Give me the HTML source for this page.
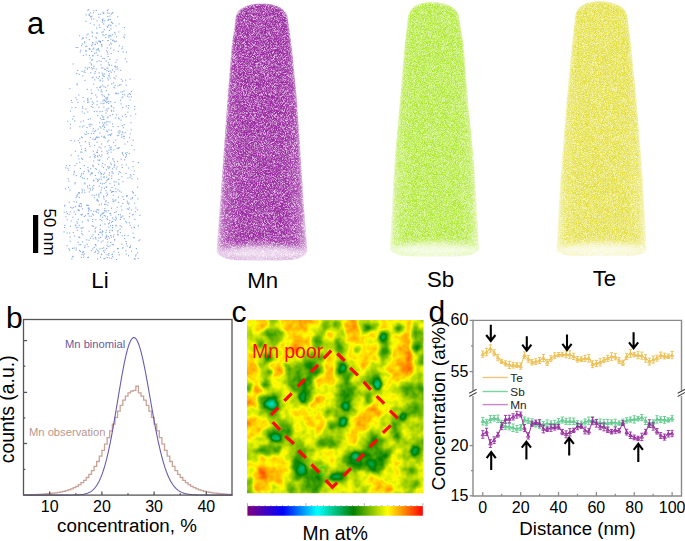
<!DOCTYPE html>
<html><head><meta charset="utf-8"><style>
html,body{margin:0;padding:0;background:#fff;}
body{width:685px;height:541px;overflow:hidden;}
svg{display:block;}
</style></head><body>
<svg width="685" height="541" viewBox="0 0 685 541">
<defs>
<filter id="soft" x="-20%" y="-20%" width="140%" height="140%"><feGaussianBlur stdDeviation="1.5"/></filter>
<filter id="soft3" x="-50%" y="-50%" width="200%" height="200%"><feGaussianBlur stdDeviation="3"/></filter>
<filter id="fMn" x="0" y="0" width="685" height="300" filterUnits="userSpaceOnUse" color-interpolation-filters="sRGB">
<feTurbulence type="fractalNoise" baseFrequency="1.9" numOctaves="2" seed="3" result="n"/>
<feColorMatrix in="n" type="matrix" values="0 0 0 0 0.608 0 0 0 0 0.176 0 0 0 0 0.635 3.0 0 0 0 -0.76" result="c"/>
<feGaussianBlur in="c" stdDeviation="0.35" result="cb"/>
<feComposite in="cb" in2="SourceGraphic" operator="in"/>
</filter>
<linearGradient id="hgMn" x1="0" x2="1" y1="0" y2="0"><stop offset="0" stop-color="#fff" stop-opacity="0.4"/><stop offset="0.1" stop-color="#fff" stop-opacity="0.85"/><stop offset="0.25" stop-color="#fff"/><stop offset="0.75" stop-color="#fff"/><stop offset="0.9" stop-color="#fff" stop-opacity="0.85"/><stop offset="1" stop-color="#fff" stop-opacity="0.4"/></linearGradient>
<mask id="mMn" maskUnits="userSpaceOnUse" x="0" y="0" width="685" height="300"><path d="M216.5,252 L220.3,200 L227.4,100 L231.8,45 L235.4,20 C235.4,9.6 245.5,3.6 261.5,3.6 C277.5,3.6 288,9.6 288,20 L291.6,45 L297,100 L303.5,200 L307.5,252 C301.5,261.5 287,260.5 262,260.5 C237,260.5 222.5,261.5 216.5,252 Z" fill="url(#hgMn)" filter="url(#soft)"/><ellipse cx="262" cy="253.5" rx="46" ry="8.5" fill="#000" opacity="0.8" filter="url(#soft3)"/></mask>
<filter id="fSb" x="0" y="0" width="685" height="300" filterUnits="userSpaceOnUse" color-interpolation-filters="sRGB">
<feTurbulence type="fractalNoise" baseFrequency="1.9" numOctaves="2" seed="5" result="n"/>
<feColorMatrix in="n" type="matrix" values="0 0 0 0 0.675 0 0 0 0 0.910 0 0 0 0 0.176 2.8 0 0 0 -0.88" result="c"/>
<feGaussianBlur in="c" stdDeviation="0.35" result="cb"/>
<feComposite in="cb" in2="SourceGraphic" operator="in"/>
</filter>
<linearGradient id="hgSb" x1="0" x2="1" y1="0" y2="0"><stop offset="0" stop-color="#fff" stop-opacity="0.4"/><stop offset="0.1" stop-color="#fff" stop-opacity="0.85"/><stop offset="0.25" stop-color="#fff"/><stop offset="0.75" stop-color="#fff"/><stop offset="0.9" stop-color="#fff" stop-opacity="0.85"/><stop offset="1" stop-color="#fff" stop-opacity="0.4"/></linearGradient>
<mask id="mSb" maskUnits="userSpaceOnUse" x="0" y="0" width="685" height="300"><path d="M389.8,250 L394.6,160 L400,100 L404.7,45 L407.6,20 C407.6,8.2 416,2.2 432,2.2 C448,2.2 459.5,8.2 459.5,20 L463.8,45 L467.8,100 L474,160 L479.2,250 C473.2,257.5 459.5,256.5 434.5,256.5 C409.5,256.5 395.8,257.5 389.8,250 Z" fill="url(#hgSb)" filter="url(#soft)"/><ellipse cx="434.5" cy="250.5" rx="45" ry="8" fill="#000" opacity="0.8" filter="url(#soft3)"/></mask>
<filter id="fTe" x="0" y="0" width="685" height="300" filterUnits="userSpaceOnUse" color-interpolation-filters="sRGB">
<feTurbulence type="fractalNoise" baseFrequency="1.9" numOctaves="2" seed="9" result="n"/>
<feColorMatrix in="n" type="matrix" values="0 0 0 0 0.886 0 0 0 0 0.867 0 0 0 0 0.227 2.8 0 0 0 -0.86" result="c"/>
<feGaussianBlur in="c" stdDeviation="0.35" result="cb"/>
<feComposite in="cb" in2="SourceGraphic" operator="in"/>
</filter>
<linearGradient id="hgTe" x1="0" x2="1" y1="0" y2="0"><stop offset="0" stop-color="#fff" stop-opacity="0.4"/><stop offset="0.1" stop-color="#fff" stop-opacity="0.85"/><stop offset="0.25" stop-color="#fff"/><stop offset="0.75" stop-color="#fff"/><stop offset="0.9" stop-color="#fff" stop-opacity="0.85"/><stop offset="1" stop-color="#fff" stop-opacity="0.4"/></linearGradient>
<mask id="mTe" maskUnits="userSpaceOnUse" x="0" y="0" width="685" height="300"><path d="M556.4,251 L560.3,180 L566.8,100 L571.9,45 L574.8,20 C574.8,7.2 584,1.2 600,1.2 C616,1.2 628.1,7.2 628.1,20 L631,45 L636.5,100 L643,180 L646.8,251 C640.8,257 626.5,256 601.5,256 C576.5,256 562.4,257 556.4,251 Z" fill="url(#hgTe)" filter="url(#soft)"/><ellipse cx="601.5" cy="250.5" rx="45" ry="8" fill="#000" opacity="0.8" filter="url(#soft3)"/></mask>
<clipPath id="hmclip"><rect x="247" y="320" width="176.5" height="173.3"/></clipPath>
<filter id="hmf" x="227" y="300" width="216.5" height="213.3" filterUnits="userSpaceOnUse" color-interpolation-filters="sRGB">
<feGaussianBlur in="SourceGraphic" stdDeviation="2.2" result="base"/>
<feTurbulence type="fractalNoise" baseFrequency="0.13" numOctaves="2" seed="4" result="tn"/>
<feColorMatrix in="tn" type="matrix" values="1 0 0 0 0  1 0 0 0 0  1 0 0 0 0  0 0 0 0 1" result="nz"/>
<feComposite in="base" in2="nz" operator="arithmetic" k1="0" k2="1" k3="0.13" k4="-0.065" result="sum"/>
<feComponentTransfer in="sum"><feFuncR type="table" tableValues="0.5020 0.4772 0.4525 0.4278 0.4031 0.3783 0.3536 0.3289 0.3041 0.2794 0.2547 0.2300 0.2052 0.1805 0.1558 0.1311 0.1063 0.0816 0.0569 0.0321 0.0074 0.0000 0.0000 0.0000 0.0000 0.0000 0.0000 0.0000 0.0000 0.0000 0.0000 0.0000 0.0000 0.0000 0.0000 0.0000 0.0000 0.0000 0.0000 0.0000 0.0000 0.0000 0.0000 0.0000 0.0000 0.0000 0.0000 0.0000 0.0000 0.0000 0.0000 0.0000 0.0000 0.0000 0.0000 0.0000 0.0000 0.0000 0.0000 0.0000 0.0000 0.0309 0.0825 0.1340 0.1856 0.2371 0.2887 0.3402 0.3918 0.4433 0.4948 0.5464 0.5979 0.6495 0.7010 0.7526 0.8041 0.8557 0.9072 0.9588 1.0000 1.0000 1.0000 1.0000 1.0000 1.0000 1.0000 1.0000 1.0000 1.0000 1.0000 1.0000 1.0000 1.0000 1.0000 1.0000 1.0000 1.0000 1.0000 1.0000 1.0000"/><feFuncG type="table" tableValues="0.0000 0.0000 0.0000 0.0000 0.0000 0.0000 0.0000 0.0000 0.0000 0.0000 0.0000 0.0000 0.0000 0.0000 0.0000 0.0000 0.0000 0.0000 0.0000 0.0000 0.0000 0.0359 0.0872 0.1385 0.1897 0.2410 0.2923 0.3436 0.3949 0.4462 0.4974 0.5487 0.6000 0.6513 0.7026 0.7538 0.8051 0.8564 0.9077 0.9590 0.9952 0.9710 0.9468 0.9226 0.8985 0.8743 0.8501 0.8259 0.8018 0.7776 0.7534 0.7292 0.7050 0.6809 0.6567 0.6325 0.6083 0.5842 0.5600 0.5358 0.5116 0.5174 0.5430 0.5687 0.5944 0.6201 0.6457 0.6714 0.6971 0.7227 0.7484 0.7741 0.7998 0.8254 0.8511 0.8768 0.9024 0.9281 0.9538 0.9795 0.9901 0.9406 0.8911 0.8416 0.7921 0.7426 0.6931 0.6436 0.5941 0.5446 0.4950 0.4455 0.3960 0.3465 0.2970 0.2475 0.1980 0.1485 0.0990 0.0495 0.0000"/><feFuncB type="table" tableValues="0.5020 0.5265 0.5510 0.5756 0.6001 0.6246 0.6492 0.6737 0.6982 0.7228 0.7473 0.7718 0.7964 0.8209 0.8454 0.8700 0.8945 0.9190 0.9436 0.9681 0.9926 1.0000 1.0000 1.0000 1.0000 1.0000 1.0000 1.0000 1.0000 1.0000 1.0000 1.0000 1.0000 1.0000 1.0000 1.0000 1.0000 1.0000 1.0000 1.0000 0.9903 0.9417 0.8932 0.8447 0.7961 0.7476 0.6990 0.6505 0.6019 0.5534 0.5049 0.4563 0.4078 0.3592 0.3107 0.2621 0.2136 0.1650 0.1165 0.0680 0.0194 0.0000 0.0000 0.0000 0.0000 0.0000 0.0000 0.0000 0.0000 0.0000 0.0000 0.0000 0.0000 0.0000 0.0000 0.0000 0.0000 0.0000 0.0000 0.0000 0.0000 0.0000 0.0000 0.0000 0.0000 0.0000 0.0000 0.0000 0.0000 0.0000 0.0000 0.0000 0.0000 0.0000 0.0000 0.0000 0.0000 0.0000 0.0000 0.0000 0.0000"/><feFuncA type="linear" slope="0" intercept="1"/></feComponentTransfer>
</filter>
<linearGradient id="cbar" x1="0" x2="1" y1="0" y2="0">
<stop offset="0" stop-color="#800080"/><stop offset="0.203" stop-color="#0000ff"/><stop offset="0.398" stop-color="#00ffff"/>
<stop offset="0.604" stop-color="#008000"/><stop offset="0.798" stop-color="#ffff00"/><stop offset="1" stop-color="#ff0000"/></linearGradient>
</defs>
<rect width="685" height="541" fill="#fff"/>
<g mask="url(#mMn)"><path d="M216.5,252 L220.3,200 L227.4,100 L231.8,45 L235.4,20 C235.4,9.6 245.5,3.6 261.5,3.6 C277.5,3.6 288,9.6 288,20 L291.6,45 L297,100 L303.5,200 L307.5,252 C301.5,261.5 287,260.5 262,260.5 C237,260.5 222.5,261.5 216.5,252 Z" fill="rgb(226, 192, 228)"/><path d="M216.5,252 L220.3,200 L227.4,100 L231.8,45 L235.4,20 C235.4,9.6 245.5,3.6 261.5,3.6 C277.5,3.6 288,9.6 288,20 L291.6,45 L297,100 L303.5,200 L307.5,252 C301.5,261.5 287,260.5 262,260.5 C237,260.5 222.5,261.5 216.5,252 Z" fill="#000" filter="url(#fMn)"/></g>
<g mask="url(#mSb)"><path d="M389.8,250 L394.6,160 L400,100 L404.7,45 L407.6,20 C407.6,8.2 416,2.2 432,2.2 C448,2.2 459.5,8.2 459.5,20 L463.8,45 L467.8,100 L474,160 L479.2,250 C473.2,257.5 459.5,256.5 434.5,256.5 C409.5,256.5 395.8,257.5 389.8,250 Z" fill="rgb(222, 245, 168)"/><path d="M389.8,250 L394.6,160 L400,100 L404.7,45 L407.6,20 C407.6,8.2 416,2.2 432,2.2 C448,2.2 459.5,8.2 459.5,20 L463.8,45 L467.8,100 L474,160 L479.2,250 C473.2,257.5 459.5,256.5 434.5,256.5 C409.5,256.5 395.8,257.5 389.8,250 Z" fill="#000" filter="url(#fSb)"/></g>
<g mask="url(#mTe)"><path d="M556.4,251 L560.3,180 L566.8,100 L571.9,45 L574.8,20 C574.8,7.2 584,1.2 600,1.2 C616,1.2 628.1,7.2 628.1,20 L631,45 L636.5,100 L643,180 L646.8,251 C640.8,257 626.5,256 601.5,256 C576.5,256 562.4,257 556.4,251 Z" fill="rgb(244, 243, 178)"/><path d="M556.4,251 L560.3,180 L566.8,100 L571.9,45 L574.8,20 C574.8,7.2 584,1.2 600,1.2 C616,1.2 628.1,7.2 628.1,20 L631,45 L636.5,100 L643,180 L646.8,251 C640.8,257 626.5,256 601.5,256 C576.5,256 562.4,257 556.4,251 Z" fill="#000" filter="url(#fTe)"/></g>
<g fill="#4f86d4" opacity="0.72"><rect x="105.9" y="90.0" width="1.1" height="1.1"/><rect x="93.2" y="18.4" width="1.1" height="1.1"/><rect x="107.4" y="40.0" width="1.1" height="1.1"/><rect x="121.8" y="153.3" width="1.1" height="1.1"/><rect x="91.2" y="45.1" width="1.1" height="1.1"/><rect x="95.9" y="168.7" width="1.1" height="1.1"/><rect x="107.2" y="179.1" width="1.1" height="1.1"/><rect x="88.4" y="207.6" width="1.1" height="1.1"/><rect x="88.8" y="191.4" width="1.1" height="1.1"/><rect x="77.2" y="47.0" width="1.1" height="1.1"/><rect x="105.5" y="200.1" width="1.1" height="1.1"/><rect x="125.9" y="154.0" width="1.1" height="1.1"/><rect x="69.8" y="127.5" width="1.1" height="1.1"/><rect x="93.0" y="214.5" width="1.1" height="1.1"/><rect x="88.5" y="14.6" width="1.1" height="1.1"/><rect x="95.6" y="41.3" width="1.1" height="1.1"/><rect x="103.7" y="29.1" width="1.1" height="1.1"/><rect x="81.7" y="213.8" width="1.1" height="1.1"/><rect x="92.2" y="248.4" width="1.1" height="1.1"/><rect x="94.0" y="156.3" width="1.1" height="1.1"/><rect x="103.1" y="247.3" width="1.1" height="1.1"/><rect x="131.4" y="178.1" width="1.1" height="1.1"/><rect x="81.4" y="227.6" width="1.1" height="1.1"/><rect x="107.9" y="24.6" width="1.1" height="1.1"/><rect x="88.1" y="9.1" width="1.1" height="1.1"/><rect x="110.1" y="162.5" width="1.1" height="1.1"/><rect x="103.5" y="125.5" width="1.1" height="1.1"/><rect x="65.3" y="216.2" width="1.1" height="1.1"/><rect x="84.8" y="141.1" width="1.1" height="1.1"/><rect x="78.6" y="224.8" width="1.1" height="1.1"/><rect x="120.4" y="91.4" width="1.1" height="1.1"/><rect x="126.2" y="222.2" width="1.1" height="1.1"/><rect x="93.4" y="65.7" width="1.1" height="1.1"/><rect x="135.9" y="248.1" width="1.1" height="1.1"/><rect x="101.6" y="247.8" width="1.1" height="1.1"/><rect x="113.5" y="219.1" width="1.1" height="1.1"/><rect x="78.3" y="236.4" width="1.1" height="1.1"/><rect x="94.3" y="251.9" width="1.1" height="1.1"/><rect x="105.3" y="190.2" width="1.1" height="1.1"/><rect x="106.5" y="254.1" width="1.1" height="1.1"/><rect x="104.0" y="251.7" width="1.1" height="1.1"/><rect x="88.5" y="215.5" width="1.1" height="1.1"/><rect x="78.8" y="73.8" width="1.1" height="1.1"/><rect x="106.0" y="97.4" width="1.1" height="1.1"/><rect x="110.0" y="134.4" width="1.1" height="1.1"/><rect x="95.7" y="52.1" width="1.1" height="1.1"/><rect x="94.7" y="71.1" width="1.1" height="1.1"/><rect x="94.9" y="237.1" width="1.1" height="1.1"/><rect x="99.1" y="122.1" width="1.1" height="1.1"/><rect x="106.5" y="244.5" width="1.1" height="1.1"/><rect x="95.3" y="219.0" width="1.1" height="1.1"/><rect x="129.9" y="174.1" width="1.1" height="1.1"/><rect x="134.1" y="108.6" width="1.1" height="1.1"/><rect x="97.6" y="49.4" width="1.1" height="1.1"/><rect x="89.8" y="189.5" width="1.1" height="1.1"/><rect x="69.2" y="165.0" width="1.1" height="1.1"/><rect x="79.1" y="35.2" width="1.1" height="1.1"/><rect x="95.9" y="76.6" width="1.1" height="1.1"/><rect x="75.0" y="213.7" width="1.1" height="1.1"/><rect x="110.6" y="151.6" width="1.1" height="1.1"/><rect x="104.4" y="122.4" width="1.1" height="1.1"/><rect x="99.0" y="76.0" width="1.1" height="1.1"/><rect x="110.9" y="21.6" width="1.1" height="1.1"/><rect x="109.2" y="134.0" width="1.1" height="1.1"/><rect x="132.8" y="192.3" width="1.1" height="1.1"/><rect x="101.3" y="213.7" width="1.1" height="1.1"/><rect x="113.3" y="107.3" width="1.1" height="1.1"/><rect x="98.7" y="185.7" width="1.1" height="1.1"/><rect x="76.1" y="72.9" width="1.1" height="1.1"/><rect x="95.4" y="226.6" width="1.1" height="1.1"/><rect x="88.6" y="48.4" width="1.1" height="1.1"/><rect x="82.1" y="252.2" width="1.1" height="1.1"/><rect x="99.6" y="86.4" width="1.1" height="1.1"/><rect x="92.0" y="59.2" width="1.1" height="1.1"/><rect x="102.1" y="19.4" width="1.1" height="1.1"/><rect x="117.9" y="196.6" width="1.1" height="1.1"/><rect x="103.3" y="106.4" width="1.1" height="1.1"/><rect x="119.8" y="232.0" width="1.1" height="1.1"/><rect x="101.2" y="43.8" width="1.1" height="1.1"/><rect x="108.1" y="210.2" width="1.1" height="1.1"/><rect x="93.0" y="179.7" width="1.1" height="1.1"/><rect x="110.2" y="148.6" width="1.1" height="1.1"/><rect x="121.9" y="131.3" width="1.1" height="1.1"/><rect x="118.1" y="134.7" width="1.1" height="1.1"/><rect x="96.0" y="27.6" width="1.1" height="1.1"/><rect x="99.3" y="132.5" width="1.1" height="1.1"/><rect x="97.6" y="200.7" width="1.1" height="1.1"/><rect x="93.7" y="194.8" width="1.1" height="1.1"/><rect x="103.4" y="177.0" width="1.1" height="1.1"/><rect x="102.2" y="125.6" width="1.1" height="1.1"/><rect x="110.9" y="13.4" width="1.1" height="1.1"/><rect x="80.4" y="121.4" width="1.1" height="1.1"/><rect x="108.8" y="44.4" width="1.1" height="1.1"/><rect x="81.2" y="230.7" width="1.1" height="1.1"/><rect x="106.1" y="130.5" width="1.1" height="1.1"/><rect x="91.7" y="44.2" width="1.1" height="1.1"/><rect x="134.4" y="218.8" width="1.1" height="1.1"/><rect x="117.6" y="234.4" width="1.1" height="1.1"/><rect x="76.3" y="99.2" width="1.1" height="1.1"/><rect x="83.5" y="71.3" width="1.1" height="1.1"/><rect x="111.9" y="230.1" width="1.1" height="1.1"/><rect x="112.8" y="244.2" width="1.1" height="1.1"/><rect x="131.9" y="197.2" width="1.1" height="1.1"/><rect x="86.5" y="127.0" width="1.1" height="1.1"/><rect x="108.3" y="253.1" width="1.1" height="1.1"/><rect x="85.5" y="50.8" width="1.1" height="1.1"/><rect x="129.7" y="133.3" width="1.1" height="1.1"/><rect x="109.4" y="121.5" width="1.1" height="1.1"/><rect x="104.5" y="68.8" width="1.1" height="1.1"/><rect x="103.1" y="196.4" width="1.1" height="1.1"/><rect x="98.6" y="24.5" width="1.1" height="1.1"/><rect x="100.0" y="224.7" width="1.1" height="1.1"/><rect x="75.7" y="247.5" width="1.1" height="1.1"/><rect x="81.2" y="232.9" width="1.1" height="1.1"/><rect x="100.0" y="215.4" width="1.1" height="1.1"/><rect x="132.5" y="139.6" width="1.1" height="1.1"/><rect x="73.8" y="170.8" width="1.1" height="1.1"/><rect x="99.1" y="170.4" width="1.1" height="1.1"/><rect x="105.1" y="37.0" width="1.1" height="1.1"/><rect x="112.7" y="159.3" width="1.1" height="1.1"/><rect x="111.7" y="229.9" width="1.1" height="1.1"/><rect x="100.4" y="85.8" width="1.1" height="1.1"/><rect x="112.2" y="114.0" width="1.1" height="1.1"/><rect x="114.2" y="65.7" width="1.1" height="1.1"/><rect x="126.7" y="208.3" width="1.1" height="1.1"/><rect x="80.5" y="214.0" width="1.1" height="1.1"/><rect x="90.8" y="132.9" width="1.1" height="1.1"/><rect x="86.3" y="45.6" width="1.1" height="1.1"/><rect x="101.3" y="44.5" width="1.1" height="1.1"/><rect x="77.6" y="241.9" width="1.1" height="1.1"/><rect x="103.2" y="195.6" width="1.1" height="1.1"/><rect x="122.6" y="51.3" width="1.1" height="1.1"/><rect x="90.8" y="250.1" width="1.1" height="1.1"/><rect x="80.9" y="214.5" width="1.1" height="1.1"/><rect x="89.7" y="57.3" width="1.1" height="1.1"/><rect x="126.8" y="200.7" width="1.1" height="1.1"/><rect x="130.0" y="93.8" width="1.1" height="1.1"/><rect x="69.3" y="88.1" width="1.1" height="1.1"/><rect x="92.6" y="238.1" width="1.1" height="1.1"/><rect x="99.5" y="248.2" width="1.1" height="1.1"/><rect x="125.3" y="241.0" width="1.1" height="1.1"/><rect x="100.1" y="214.7" width="1.1" height="1.1"/><rect x="78.7" y="204.6" width="1.1" height="1.1"/><rect x="81.5" y="70.8" width="1.1" height="1.1"/><rect x="108.3" y="75.2" width="1.1" height="1.1"/><rect x="107.4" y="67.5" width="1.1" height="1.1"/><rect x="122.3" y="196.0" width="1.1" height="1.1"/><rect x="101.2" y="150.7" width="1.1" height="1.1"/><rect x="93.6" y="153.6" width="1.1" height="1.1"/><rect x="122.8" y="135.8" width="1.1" height="1.1"/><rect x="100.0" y="256.7" width="1.1" height="1.1"/><rect x="108.5" y="19.1" width="1.1" height="1.1"/><rect x="81.9" y="241.5" width="1.1" height="1.1"/><rect x="109.4" y="245.4" width="1.1" height="1.1"/><rect x="90.9" y="63.4" width="1.1" height="1.1"/><rect x="119.7" y="171.9" width="1.1" height="1.1"/><rect x="99.3" y="87.0" width="1.1" height="1.1"/><rect x="82.3" y="107.8" width="1.1" height="1.1"/><rect x="87.2" y="111.4" width="1.1" height="1.1"/><rect x="96.4" y="87.1" width="1.1" height="1.1"/><rect x="70.9" y="99.9" width="1.1" height="1.1"/><rect x="91.3" y="124.2" width="1.1" height="1.1"/><rect x="87.0" y="101.7" width="1.1" height="1.1"/><rect x="115.9" y="36.2" width="1.1" height="1.1"/><rect x="124.7" y="58.3" width="1.1" height="1.1"/><rect x="110.8" y="129.7" width="1.1" height="1.1"/><rect x="84.9" y="215.1" width="1.1" height="1.1"/><rect x="106.9" y="216.3" width="1.1" height="1.1"/><rect x="112.1" y="39.8" width="1.1" height="1.1"/><rect x="103.5" y="198.4" width="1.1" height="1.1"/><rect x="92.7" y="165.8" width="1.1" height="1.1"/><rect x="67.3" y="120.7" width="1.1" height="1.1"/><rect x="119.5" y="131.4" width="1.1" height="1.1"/><rect x="90.1" y="123.6" width="1.1" height="1.1"/><rect x="114.3" y="31.9" width="1.1" height="1.1"/><rect x="106.3" y="192.4" width="1.1" height="1.1"/><rect x="129.6" y="246.7" width="1.1" height="1.1"/><rect x="78.5" y="192.0" width="1.1" height="1.1"/><rect x="124.1" y="238.0" width="1.1" height="1.1"/><rect x="115.5" y="25.4" width="1.1" height="1.1"/><rect x="101.9" y="212.9" width="1.1" height="1.1"/><rect x="96.5" y="61.1" width="1.1" height="1.1"/><rect x="90.1" y="168.1" width="1.1" height="1.1"/><rect x="116.6" y="166.4" width="1.1" height="1.1"/><rect x="120.4" y="119.6" width="1.1" height="1.1"/><rect x="96.9" y="155.5" width="1.1" height="1.1"/><rect x="102.2" y="163.0" width="1.1" height="1.1"/><rect x="92.2" y="42.0" width="1.1" height="1.1"/><rect x="110.4" y="35.6" width="1.1" height="1.1"/><rect x="74.4" y="165.0" width="1.1" height="1.1"/><rect x="77.1" y="69.9" width="1.1" height="1.1"/><rect x="77.5" y="226.8" width="1.1" height="1.1"/><rect x="108.4" y="149.6" width="1.1" height="1.1"/><rect x="70.0" y="110.5" width="1.1" height="1.1"/><rect x="78.6" y="244.2" width="1.1" height="1.1"/><rect x="101.2" y="135.7" width="1.1" height="1.1"/><rect x="64.2" y="204.7" width="1.1" height="1.1"/><rect x="106.2" y="195.3" width="1.1" height="1.1"/><rect x="91.1" y="67.1" width="1.1" height="1.1"/><rect x="111.5" y="186.9" width="1.1" height="1.1"/><rect x="102.9" y="250.3" width="1.1" height="1.1"/><rect x="76.3" y="195.5" width="1.1" height="1.1"/><rect x="113.5" y="166.7" width="1.1" height="1.1"/><rect x="80.2" y="151.6" width="1.1" height="1.1"/><rect x="81.0" y="45.1" width="1.1" height="1.1"/><rect x="102.4" y="95.2" width="1.1" height="1.1"/><rect x="84.5" y="183.3" width="1.1" height="1.1"/><rect x="68.6" y="213.9" width="1.1" height="1.1"/><rect x="104.9" y="237.6" width="1.1" height="1.1"/><rect x="112.0" y="220.9" width="1.1" height="1.1"/><rect x="121.7" y="166.9" width="1.1" height="1.1"/><rect x="86.8" y="88.8" width="1.1" height="1.1"/><rect x="108.2" y="101.0" width="1.1" height="1.1"/><rect x="98.4" y="16.7" width="1.1" height="1.1"/><rect x="124.3" y="143.5" width="1.1" height="1.1"/><rect x="107.5" y="9.3" width="1.1" height="1.1"/><rect x="92.4" y="55.1" width="1.1" height="1.1"/><rect x="84.5" y="79.9" width="1.1" height="1.1"/><rect x="101.8" y="183.3" width="1.1" height="1.1"/><rect x="99.6" y="231.6" width="1.1" height="1.1"/><rect x="92.5" y="234.3" width="1.1" height="1.1"/><rect x="102.3" y="67.4" width="1.1" height="1.1"/><rect x="75.6" y="197.2" width="1.1" height="1.1"/><rect x="108.7" y="174.5" width="1.1" height="1.1"/><rect x="98.3" y="40.5" width="1.1" height="1.1"/><rect x="110.1" y="47.6" width="1.1" height="1.1"/><rect x="130.8" y="91.0" width="1.1" height="1.1"/><rect x="124.3" y="34.4" width="1.1" height="1.1"/><rect x="78.6" y="192.3" width="1.1" height="1.1"/><rect x="91.8" y="35.7" width="1.1" height="1.1"/><rect x="84.2" y="182.4" width="1.1" height="1.1"/><rect x="107.6" y="236.0" width="1.1" height="1.1"/><rect x="116.0" y="114.3" width="1.1" height="1.1"/><rect x="128.4" y="202.5" width="1.1" height="1.1"/><rect x="87.5" y="169.4" width="1.1" height="1.1"/><rect x="114.6" y="33.5" width="1.1" height="1.1"/><rect x="109.1" y="166.4" width="1.1" height="1.1"/><rect x="100.9" y="203.5" width="1.1" height="1.1"/><rect x="95.1" y="244.1" width="1.1" height="1.1"/><rect x="81.7" y="137.0" width="1.1" height="1.1"/><rect x="87.2" y="97.9" width="1.1" height="1.1"/><rect x="82.5" y="97.0" width="1.1" height="1.1"/><rect x="80.1" y="244.0" width="1.1" height="1.1"/><rect x="75.2" y="107.0" width="1.1" height="1.1"/><rect x="73.6" y="211.4" width="1.1" height="1.1"/><rect x="121.4" y="97.3" width="1.1" height="1.1"/><rect x="117.6" y="126.0" width="1.1" height="1.1"/><rect x="111.0" y="221.7" width="1.1" height="1.1"/><rect x="94.2" y="79.3" width="1.1" height="1.1"/><rect x="133.3" y="173.8" width="1.1" height="1.1"/><rect x="74.1" y="235.5" width="1.1" height="1.1"/><rect x="65.2" y="167.3" width="1.1" height="1.1"/><rect x="81.2" y="173.0" width="1.1" height="1.1"/><rect x="126.8" y="95.6" width="1.1" height="1.1"/><rect x="113.6" y="161.1" width="1.1" height="1.1"/><rect x="78.7" y="206.0" width="1.1" height="1.1"/><rect x="96.5" y="141.7" width="1.1" height="1.1"/><rect x="116.7" y="147.8" width="1.1" height="1.1"/><rect x="89.4" y="125.8" width="1.1" height="1.1"/><rect x="112.4" y="126.0" width="1.1" height="1.1"/><rect x="100.5" y="102.7" width="1.1" height="1.1"/><rect x="104.2" y="136.7" width="1.1" height="1.1"/><rect x="102.2" y="100.5" width="1.1" height="1.1"/><rect x="115.3" y="61.7" width="1.1" height="1.1"/><rect x="83.8" y="215.9" width="1.1" height="1.1"/><rect x="90.7" y="172.6" width="1.1" height="1.1"/><rect x="67.3" y="167.7" width="1.1" height="1.1"/><rect x="94.8" y="230.4" width="1.1" height="1.1"/><rect x="114.1" y="239.4" width="1.1" height="1.1"/><rect x="110.9" y="236.5" width="1.1" height="1.1"/><rect x="109.4" y="183.1" width="1.1" height="1.1"/><rect x="96.3" y="199.7" width="1.1" height="1.1"/><rect x="125.4" y="172.9" width="1.1" height="1.1"/><rect x="97.0" y="149.5" width="1.1" height="1.1"/><rect x="110.0" y="18.8" width="1.1" height="1.1"/><rect x="103.3" y="12.5" width="1.1" height="1.1"/><rect x="118.8" y="254.2" width="1.1" height="1.1"/><rect x="75.5" y="46.9" width="1.1" height="1.1"/><rect x="114.6" y="41.2" width="1.1" height="1.1"/><rect x="111.3" y="191.4" width="1.1" height="1.1"/><rect x="65.0" y="188.3" width="1.1" height="1.1"/><rect x="87.3" y="213.3" width="1.1" height="1.1"/><rect x="92.4" y="130.6" width="1.1" height="1.1"/><rect x="87.3" y="99.8" width="1.1" height="1.1"/><rect x="66.5" y="245.2" width="1.1" height="1.1"/><rect x="88.9" y="184.8" width="1.1" height="1.1"/><rect x="84.1" y="253.4" width="1.1" height="1.1"/><rect x="95.4" y="210.9" width="1.1" height="1.1"/><rect x="66.8" y="213.0" width="1.1" height="1.1"/><rect x="103.4" y="211.9" width="1.1" height="1.1"/><rect x="104.0" y="95.7" width="1.1" height="1.1"/><rect x="110.2" y="241.9" width="1.1" height="1.1"/><rect x="83.5" y="125.3" width="1.1" height="1.1"/><rect x="70.3" y="206.9" width="1.1" height="1.1"/><rect x="107.7" y="202.0" width="1.1" height="1.1"/><rect x="101.7" y="230.3" width="1.1" height="1.1"/><rect x="104.0" y="99.7" width="1.1" height="1.1"/><rect x="71.3" y="258.3" width="1.1" height="1.1"/><rect x="120.6" y="205.8" width="1.1" height="1.1"/><rect x="115.3" y="225.5" width="1.1" height="1.1"/><rect x="126.6" y="245.6" width="1.1" height="1.1"/><rect x="101.5" y="72.5" width="1.1" height="1.1"/><rect x="69.5" y="236.5" width="1.1" height="1.1"/><rect x="108.8" y="73.3" width="1.1" height="1.1"/><rect x="100.5" y="176.4" width="1.1" height="1.1"/><rect x="100.4" y="64.4" width="1.1" height="1.1"/><rect x="123.6" y="218.3" width="1.1" height="1.1"/><rect x="112.2" y="22.9" width="1.1" height="1.1"/><rect x="108.3" y="178.2" width="1.1" height="1.1"/><rect x="108.7" y="35.4" width="1.1" height="1.1"/><rect x="115.5" y="68.6" width="1.1" height="1.1"/><rect x="69.9" y="225.7" width="1.1" height="1.1"/><rect x="115.0" y="219.6" width="1.1" height="1.1"/><rect x="107.2" y="166.0" width="1.1" height="1.1"/><rect x="115.5" y="75.6" width="1.1" height="1.1"/><rect x="91.2" y="50.9" width="1.1" height="1.1"/><rect x="103.5" y="176.1" width="1.1" height="1.1"/><rect x="134.7" y="258.5" width="1.1" height="1.1"/><rect x="119.1" y="190.6" width="1.1" height="1.1"/><rect x="94.7" y="44.0" width="1.1" height="1.1"/><rect x="79.1" y="237.0" width="1.1" height="1.1"/><rect x="105.8" y="186.9" width="1.1" height="1.1"/><rect x="107.2" y="77.5" width="1.1" height="1.1"/><rect x="114.1" y="211.9" width="1.1" height="1.1"/><rect x="100.7" y="189.4" width="1.1" height="1.1"/><rect x="122.3" y="132.3" width="1.1" height="1.1"/><rect x="83.4" y="100.8" width="1.1" height="1.1"/><rect x="74.1" y="120.4" width="1.1" height="1.1"/><rect x="88.1" y="213.1" width="1.1" height="1.1"/><rect x="122.0" y="247.5" width="1.1" height="1.1"/><rect x="79.9" y="250.9" width="1.1" height="1.1"/><rect x="90.2" y="16.5" width="1.1" height="1.1"/><rect x="106.7" y="153.1" width="1.1" height="1.1"/><rect x="104.2" y="20.3" width="1.1" height="1.1"/><rect x="106.8" y="110.4" width="1.1" height="1.1"/><rect x="126.2" y="195.6" width="1.1" height="1.1"/><rect x="82.0" y="106.2" width="1.1" height="1.1"/><rect x="80.9" y="203.2" width="1.1" height="1.1"/><rect x="102.6" y="212.8" width="1.1" height="1.1"/><rect x="113.9" y="71.3" width="1.1" height="1.1"/><rect x="107.3" y="117.3" width="1.1" height="1.1"/><rect x="125.9" y="243.2" width="1.1" height="1.1"/><rect x="117.4" y="230.2" width="1.1" height="1.1"/><rect x="125.7" y="164.3" width="1.1" height="1.1"/><rect x="116.9" y="248.0" width="1.1" height="1.1"/><rect x="102.2" y="40.0" width="1.1" height="1.1"/><rect x="107.1" y="218.9" width="1.1" height="1.1"/><rect x="103.1" y="124.2" width="1.1" height="1.1"/><rect x="90.9" y="64.4" width="1.1" height="1.1"/><rect x="74.8" y="224.5" width="1.1" height="1.1"/><rect x="92.4" y="48.6" width="1.1" height="1.1"/><rect x="123.3" y="36.3" width="1.1" height="1.1"/><rect x="93.3" y="47.6" width="1.1" height="1.1"/><rect x="119.9" y="214.3" width="1.1" height="1.1"/><rect x="123.2" y="198.9" width="1.1" height="1.1"/><rect x="108.8" y="237.7" width="1.1" height="1.1"/><rect x="121.7" y="152.0" width="1.1" height="1.1"/><rect x="117.0" y="160.8" width="1.1" height="1.1"/><rect x="98.4" y="106.7" width="1.1" height="1.1"/><rect x="85.6" y="133.9" width="1.1" height="1.1"/><rect x="101.3" y="154.4" width="1.1" height="1.1"/><rect x="96.2" y="248.7" width="1.1" height="1.1"/><rect x="102.5" y="11.7" width="1.1" height="1.1"/><rect x="92.4" y="138.4" width="1.1" height="1.1"/><rect x="95.5" y="178.1" width="1.1" height="1.1"/><rect x="97.3" y="250.1" width="1.1" height="1.1"/><rect x="104.4" y="258.0" width="1.1" height="1.1"/><rect x="125.9" y="51.7" width="1.1" height="1.1"/><rect x="129.0" y="137.1" width="1.1" height="1.1"/><rect x="102.1" y="231.0" width="1.1" height="1.1"/><rect x="107.6" y="56.0" width="1.1" height="1.1"/><rect x="94.8" y="168.1" width="1.1" height="1.1"/><rect x="106.9" y="10.0" width="1.1" height="1.1"/><rect x="84.2" y="133.5" width="1.1" height="1.1"/><rect x="124.8" y="152.6" width="1.1" height="1.1"/><rect x="102.3" y="34.0" width="1.1" height="1.1"/><rect x="109.5" y="24.5" width="1.1" height="1.1"/><rect x="79.7" y="51.4" width="1.1" height="1.1"/><rect x="70.7" y="154.6" width="1.1" height="1.1"/><rect x="103.3" y="118.9" width="1.1" height="1.1"/><rect x="109.5" y="213.0" width="1.1" height="1.1"/><rect x="84.2" y="69.7" width="1.1" height="1.1"/><rect x="120.2" y="69.8" width="1.1" height="1.1"/><rect x="113.3" y="149.4" width="1.1" height="1.1"/><rect x="107.1" y="96.8" width="1.1" height="1.1"/><rect x="75.8" y="175.1" width="1.1" height="1.1"/><rect x="92.1" y="32.2" width="1.1" height="1.1"/><rect x="90.5" y="210.2" width="1.1" height="1.1"/><rect x="116.7" y="135.2" width="1.1" height="1.1"/><rect x="117.1" y="233.9" width="1.1" height="1.1"/><rect x="82.5" y="227.1" width="1.1" height="1.1"/><rect x="110.8" y="105.2" width="1.1" height="1.1"/><rect x="103.3" y="99.4" width="1.1" height="1.1"/><rect x="125.2" y="79.6" width="1.1" height="1.1"/><rect x="76.8" y="229.7" width="1.1" height="1.1"/><rect x="94.9" y="174.9" width="1.1" height="1.1"/><rect x="118.3" y="183.8" width="1.1" height="1.1"/><rect x="100.2" y="192.5" width="1.1" height="1.1"/><rect x="114.7" y="84.8" width="1.1" height="1.1"/><rect x="92.2" y="218.9" width="1.1" height="1.1"/><rect x="122.3" y="96.3" width="1.1" height="1.1"/><rect x="122.0" y="80.6" width="1.1" height="1.1"/><rect x="85.3" y="20.8" width="1.1" height="1.1"/><rect x="98.5" y="196.4" width="1.1" height="1.1"/><rect x="107.7" y="79.3" width="1.1" height="1.1"/><rect x="77.3" y="193.7" width="1.1" height="1.1"/><rect x="125.6" y="116.1" width="1.1" height="1.1"/><rect x="114.0" y="184.7" width="1.1" height="1.1"/><rect x="108.6" y="145.0" width="1.1" height="1.1"/><rect x="113.4" y="86.6" width="1.1" height="1.1"/><rect x="117.3" y="68.5" width="1.1" height="1.1"/><rect x="120.7" y="158.7" width="1.1" height="1.1"/><rect x="95.8" y="37.6" width="1.1" height="1.1"/><rect x="107.5" y="121.0" width="1.1" height="1.1"/><rect x="123.9" y="27.0" width="1.1" height="1.1"/><rect x="111.5" y="254.1" width="1.1" height="1.1"/><rect x="131.2" y="144.8" width="1.1" height="1.1"/><rect x="73.6" y="172.2" width="1.1" height="1.1"/><rect x="77.7" y="218.9" width="1.1" height="1.1"/><rect x="121.0" y="216.6" width="1.1" height="1.1"/><rect x="91.8" y="101.1" width="1.1" height="1.1"/><rect x="104.3" y="68.8" width="1.1" height="1.1"/><rect x="132.6" y="213.9" width="1.1" height="1.1"/><rect x="118.6" y="132.6" width="1.1" height="1.1"/><rect x="97.2" y="181.0" width="1.1" height="1.1"/><rect x="118.2" y="31.4" width="1.1" height="1.1"/><rect x="87.3" y="219.2" width="1.1" height="1.1"/><rect x="95.2" y="137.7" width="1.1" height="1.1"/><rect x="110.2" y="235.0" width="1.1" height="1.1"/><rect x="102.3" y="57.9" width="1.1" height="1.1"/><rect x="104.6" y="249.5" width="1.1" height="1.1"/><rect x="111.2" y="83.3" width="1.1" height="1.1"/><rect x="90.5" y="16.0" width="1.1" height="1.1"/><rect x="106.1" y="102.0" width="1.1" height="1.1"/><rect x="82.9" y="37.6" width="1.1" height="1.1"/><rect x="98.6" y="72.4" width="1.1" height="1.1"/><rect x="114.9" y="65.6" width="1.1" height="1.1"/><rect x="96.3" y="111.0" width="1.1" height="1.1"/><rect x="110.7" y="146.6" width="1.1" height="1.1"/><rect x="122.2" y="107.0" width="1.1" height="1.1"/><rect x="79.7" y="203.0" width="1.1" height="1.1"/><rect x="107.9" y="62.3" width="1.1" height="1.1"/><rect x="133.9" y="227.0" width="1.1" height="1.1"/><rect x="112.8" y="39.7" width="1.1" height="1.1"/><rect x="92.0" y="189.4" width="1.1" height="1.1"/><rect x="111.1" y="177.8" width="1.1" height="1.1"/><rect x="82.2" y="37.4" width="1.1" height="1.1"/><rect x="96.5" y="104.2" width="1.1" height="1.1"/><rect x="87.5" y="246.2" width="1.1" height="1.1"/><rect x="77.5" y="209.1" width="1.1" height="1.1"/><rect x="118.4" y="178.9" width="1.1" height="1.1"/><rect x="75.8" y="227.3" width="1.1" height="1.1"/><rect x="97.2" y="156.3" width="1.1" height="1.1"/><rect x="111.1" y="106.0" width="1.1" height="1.1"/><rect x="96.5" y="20.3" width="1.1" height="1.1"/><rect x="102.2" y="74.5" width="1.1" height="1.1"/><rect x="106.7" y="257.0" width="1.1" height="1.1"/><rect x="112.0" y="227.1" width="1.1" height="1.1"/><rect x="120.0" y="99.7" width="1.1" height="1.1"/><rect x="86.7" y="243.7" width="1.1" height="1.1"/><rect x="107.1" y="193.9" width="1.1" height="1.1"/><rect x="93.6" y="24.1" width="1.1" height="1.1"/><rect x="108.3" y="129.4" width="1.1" height="1.1"/><rect x="104.3" y="122.3" width="1.1" height="1.1"/><rect x="119.0" y="84.4" width="1.1" height="1.1"/><rect x="86.2" y="239.3" width="1.1" height="1.1"/><rect x="106.8" y="25.9" width="1.1" height="1.1"/><rect x="106.0" y="50.1" width="1.1" height="1.1"/><rect x="118.7" y="171.0" width="1.1" height="1.1"/><rect x="123.9" y="159.3" width="1.1" height="1.1"/><rect x="108.1" y="94.3" width="1.1" height="1.1"/><rect x="88.5" y="239.7" width="1.1" height="1.1"/><rect x="88.1" y="171.2" width="1.1" height="1.1"/><rect x="114.9" y="92.6" width="1.1" height="1.1"/><rect x="97.6" y="240.3" width="1.1" height="1.1"/><rect x="122.1" y="91.3" width="1.1" height="1.1"/><rect x="97.8" y="212.5" width="1.1" height="1.1"/><rect x="99.3" y="159.4" width="1.1" height="1.1"/><rect x="122.3" y="203.0" width="1.1" height="1.1"/><rect x="102.3" y="122.3" width="1.1" height="1.1"/><rect x="99.8" y="42.0" width="1.1" height="1.1"/><rect x="126.9" y="202.5" width="1.1" height="1.1"/><rect x="107.3" y="16.0" width="1.1" height="1.1"/><rect x="94.8" y="243.9" width="1.1" height="1.1"/><rect x="113.4" y="49.5" width="1.1" height="1.1"/><rect x="79.9" y="168.0" width="1.1" height="1.1"/><rect x="95.3" y="245.2" width="1.1" height="1.1"/><rect x="115.3" y="66.8" width="1.1" height="1.1"/><rect x="121.1" y="226.3" width="1.1" height="1.1"/><rect x="99.6" y="79.6" width="1.1" height="1.1"/><rect x="107.0" y="158.4" width="1.1" height="1.1"/><rect x="129.7" y="224.8" width="1.1" height="1.1"/><rect x="76.6" y="83.4" width="1.1" height="1.1"/><rect x="87.5" y="33.4" width="1.1" height="1.1"/><rect x="81.3" y="253.9" width="1.1" height="1.1"/><rect x="113.7" y="181.4" width="1.1" height="1.1"/><rect x="88.7" y="39.1" width="1.1" height="1.1"/><rect x="121.1" y="134.2" width="1.1" height="1.1"/><rect x="109.3" y="229.8" width="1.1" height="1.1"/><rect x="101.7" y="111.0" width="1.1" height="1.1"/><rect x="114.7" y="145.0" width="1.1" height="1.1"/><rect x="80.5" y="227.5" width="1.1" height="1.1"/><rect x="134.2" y="105.8" width="1.1" height="1.1"/><rect x="102.5" y="103.2" width="1.1" height="1.1"/><rect x="105.6" y="236.1" width="1.1" height="1.1"/><rect x="108.8" y="222.4" width="1.1" height="1.1"/><rect x="98.3" y="194.8" width="1.1" height="1.1"/><rect x="86.9" y="178.3" width="1.1" height="1.1"/><rect x="115.2" y="139.5" width="1.1" height="1.1"/><rect x="77.7" y="140.0" width="1.1" height="1.1"/><rect x="123.7" y="124.1" width="1.1" height="1.1"/><rect x="92.7" y="225.9" width="1.1" height="1.1"/><rect x="92.0" y="213.4" width="1.1" height="1.1"/><rect x="78.8" y="209.8" width="1.1" height="1.1"/><rect x="99.9" y="182.8" width="1.1" height="1.1"/><rect x="112.3" y="198.7" width="1.1" height="1.1"/><rect x="88.2" y="101.7" width="1.1" height="1.1"/><rect x="103.1" y="23.4" width="1.1" height="1.1"/><rect x="112.1" y="217.5" width="1.1" height="1.1"/><rect x="116.5" y="59.4" width="1.1" height="1.1"/><rect x="114.4" y="101.9" width="1.1" height="1.1"/><rect x="93.8" y="111.0" width="1.1" height="1.1"/><rect x="138.3" y="240.2" width="1.1" height="1.1"/><rect x="101.4" y="91.4" width="1.1" height="1.1"/><rect x="101.9" y="234.3" width="1.1" height="1.1"/><rect x="99.7" y="218.9" width="1.1" height="1.1"/><rect x="101.5" y="119.0" width="1.1" height="1.1"/><rect x="106.2" y="176.6" width="1.1" height="1.1"/><rect x="73.6" y="201.3" width="1.1" height="1.1"/><rect x="86.3" y="34.4" width="1.1" height="1.1"/><rect x="68.0" y="186.8" width="1.1" height="1.1"/><rect x="135.1" y="113.5" width="1.1" height="1.1"/><rect x="64.1" y="227.0" width="1.1" height="1.1"/><rect x="109.6" y="77.7" width="1.1" height="1.1"/><rect x="103.2" y="136.7" width="1.1" height="1.1"/><rect x="108.0" y="223.2" width="1.1" height="1.1"/><rect x="121.8" y="125.1" width="1.1" height="1.1"/><rect x="106.7" y="238.8" width="1.1" height="1.1"/><rect x="84.7" y="150.2" width="1.1" height="1.1"/><rect x="98.2" y="209.6" width="1.1" height="1.1"/><rect x="118.5" y="23.4" width="1.1" height="1.1"/><rect x="112.2" y="158.1" width="1.1" height="1.1"/><rect x="127.4" y="177.5" width="1.1" height="1.1"/><rect x="95.4" y="238.5" width="1.1" height="1.1"/><rect x="83.8" y="112.7" width="1.1" height="1.1"/><rect x="68.2" y="180.5" width="1.1" height="1.1"/><rect x="113.0" y="82.4" width="1.1" height="1.1"/><rect x="94.9" y="237.0" width="1.1" height="1.1"/><rect x="92.3" y="106.9" width="1.1" height="1.1"/><rect x="108.9" y="64.8" width="1.1" height="1.1"/><rect x="98.8" y="178.7" width="1.1" height="1.1"/><rect x="111.7" y="243.9" width="1.1" height="1.1"/><rect x="100.7" y="241.5" width="1.1" height="1.1"/><rect x="78.4" y="158.4" width="1.1" height="1.1"/><rect x="87.7" y="220.4" width="1.1" height="1.1"/><rect x="83.0" y="173.1" width="1.1" height="1.1"/><rect x="93.2" y="83.6" width="1.1" height="1.1"/><rect x="81.1" y="157.9" width="1.1" height="1.1"/><rect x="75.3" y="97.2" width="1.1" height="1.1"/><rect x="131.1" y="227.4" width="1.1" height="1.1"/><rect x="87.6" y="133.0" width="1.1" height="1.1"/><rect x="103.6" y="135.7" width="1.1" height="1.1"/><rect x="81.4" y="151.6" width="1.1" height="1.1"/><rect x="106.7" y="47.4" width="1.1" height="1.1"/><rect x="94.6" y="231.6" width="1.1" height="1.1"/><rect x="137.0" y="186.7" width="1.1" height="1.1"/><rect x="114.1" y="163.6" width="1.1" height="1.1"/><rect x="114.2" y="239.2" width="1.1" height="1.1"/><rect x="100.7" y="178.7" width="1.1" height="1.1"/><rect x="97.0" y="258.3" width="1.1" height="1.1"/><rect x="78.8" y="196.9" width="1.1" height="1.1"/><rect x="70.6" y="220.4" width="1.1" height="1.1"/><rect x="130.9" y="96.3" width="1.1" height="1.1"/><rect x="126.4" y="195.4" width="1.1" height="1.1"/><rect x="127.5" y="235.2" width="1.1" height="1.1"/><rect x="124.9" y="156.6" width="1.1" height="1.1"/><rect x="133.7" y="226.7" width="1.1" height="1.1"/><rect x="82.7" y="251.1" width="1.1" height="1.1"/><rect x="88.7" y="67.0" width="1.1" height="1.1"/><rect x="93.4" y="180.3" width="1.1" height="1.1"/><rect x="135.3" y="207.4" width="1.1" height="1.1"/><rect x="111.0" y="110.6" width="1.1" height="1.1"/><rect x="122.2" y="93.9" width="1.1" height="1.1"/><rect x="102.8" y="13.1" width="1.1" height="1.1"/><rect x="91.1" y="92.9" width="1.1" height="1.1"/><rect x="110.8" y="163.8" width="1.1" height="1.1"/><rect x="73.2" y="174.2" width="1.1" height="1.1"/><rect x="82.8" y="55.0" width="1.1" height="1.1"/><rect x="127.8" y="107.6" width="1.1" height="1.1"/><rect x="72.3" y="216.7" width="1.1" height="1.1"/><rect x="110.7" y="71.7" width="1.1" height="1.1"/><rect x="69.2" y="232.5" width="1.1" height="1.1"/><rect x="103.0" y="167.0" width="1.1" height="1.1"/><rect x="91.3" y="235.8" width="1.1" height="1.1"/><rect x="97.6" y="179.9" width="1.1" height="1.1"/><rect x="109.1" y="231.8" width="1.1" height="1.1"/><rect x="122.5" y="247.2" width="1.1" height="1.1"/><rect x="105.9" y="169.4" width="1.1" height="1.1"/><rect x="125.7" y="253.5" width="1.1" height="1.1"/><rect x="92.1" y="186.4" width="1.1" height="1.1"/><rect x="128.9" y="207.4" width="1.1" height="1.1"/><rect x="98.4" y="193.6" width="1.1" height="1.1"/><rect x="131.0" y="250.7" width="1.1" height="1.1"/><rect x="100.8" y="89.2" width="1.1" height="1.1"/><rect x="79.0" y="249.9" width="1.1" height="1.1"/><rect x="111.9" y="168.3" width="1.1" height="1.1"/><rect x="81.0" y="148.7" width="1.1" height="1.1"/><rect x="127.1" y="141.3" width="1.1" height="1.1"/><rect x="90.6" y="215.7" width="1.1" height="1.1"/><rect x="102.7" y="75.4" width="1.1" height="1.1"/><rect x="108.2" y="36.8" width="1.1" height="1.1"/><rect x="108.6" y="167.5" width="1.1" height="1.1"/><rect x="78.3" y="94.4" width="1.1" height="1.1"/><rect x="113.1" y="141.9" width="1.1" height="1.1"/><rect x="92.3" y="42.4" width="1.1" height="1.1"/><rect x="80.1" y="176.0" width="1.1" height="1.1"/><rect x="75.2" y="206.1" width="1.1" height="1.1"/><rect x="131.8" y="197.5" width="1.1" height="1.1"/><rect x="112.8" y="194.8" width="1.1" height="1.1"/><rect x="93.2" y="184.9" width="1.1" height="1.1"/><rect x="91.6" y="77.3" width="1.1" height="1.1"/><rect x="121.2" y="209.5" width="1.1" height="1.1"/><rect x="94.6" y="43.7" width="1.1" height="1.1"/><rect x="95.4" y="36.6" width="1.1" height="1.1"/><rect x="65.9" y="211.2" width="1.1" height="1.1"/><rect x="109.6" y="115.0" width="1.1" height="1.1"/><rect x="77.8" y="155.2" width="1.1" height="1.1"/><rect x="137.7" y="257.9" width="1.1" height="1.1"/><rect x="97.5" y="128.5" width="1.1" height="1.1"/><rect x="106.1" y="186.1" width="1.1" height="1.1"/><rect x="79.3" y="138.1" width="1.1" height="1.1"/><rect x="103.8" y="58.2" width="1.1" height="1.1"/><rect x="136.8" y="252.3" width="1.1" height="1.1"/><rect x="69.5" y="189.6" width="1.1" height="1.1"/><rect x="83.9" y="189.5" width="1.1" height="1.1"/><rect x="80.8" y="256.9" width="1.1" height="1.1"/><rect x="77.9" y="210.1" width="1.1" height="1.1"/><rect x="100.0" y="236.9" width="1.1" height="1.1"/><rect x="100.0" y="41.1" width="1.1" height="1.1"/><rect x="100.8" y="254.1" width="1.1" height="1.1"/><rect x="110.2" y="42.5" width="1.1" height="1.1"/><rect x="115.3" y="216.6" width="1.1" height="1.1"/><rect x="107.1" y="26.7" width="1.1" height="1.1"/><rect x="119.3" y="130.1" width="1.1" height="1.1"/><rect x="99.3" y="40.6" width="1.1" height="1.1"/><rect x="103.1" y="118.9" width="1.1" height="1.1"/><rect x="82.0" y="177.2" width="1.1" height="1.1"/><rect x="74.6" y="182.0" width="1.1" height="1.1"/><rect x="82.1" y="158.8" width="1.1" height="1.1"/><rect x="116.8" y="66.2" width="1.1" height="1.1"/><rect x="107.7" y="167.5" width="1.1" height="1.1"/><rect x="91.0" y="18.5" width="1.1" height="1.1"/><rect x="107.1" y="241.6" width="1.1" height="1.1"/><rect x="137.4" y="198.3" width="1.1" height="1.1"/><rect x="80.3" y="49.7" width="1.1" height="1.1"/><rect x="63.5" y="231.4" width="1.1" height="1.1"/><rect x="107.6" y="134.6" width="1.1" height="1.1"/><rect x="110.4" y="28.4" width="1.1" height="1.1"/><rect x="126.5" y="195.2" width="1.1" height="1.1"/><rect x="111.9" y="123.5" width="1.1" height="1.1"/><rect x="97.3" y="253.1" width="1.1" height="1.1"/><rect x="125.3" y="221.1" width="1.1" height="1.1"/><rect x="105.2" y="201.2" width="1.1" height="1.1"/><rect x="94.3" y="139.0" width="1.1" height="1.1"/><rect x="132.7" y="192.2" width="1.1" height="1.1"/><rect x="115.2" y="188.2" width="1.1" height="1.1"/><rect x="90.3" y="72.2" width="1.1" height="1.1"/><rect x="135.6" y="254.2" width="1.1" height="1.1"/><rect x="93.7" y="197.2" width="1.1" height="1.1"/><rect x="88.6" y="230.6" width="1.1" height="1.1"/><rect x="71.6" y="207.6" width="1.1" height="1.1"/><rect x="96.5" y="100.8" width="1.1" height="1.1"/><rect x="91.4" y="31.4" width="1.1" height="1.1"/><rect x="107.1" y="12.4" width="1.1" height="1.1"/><rect x="110.6" y="53.1" width="1.1" height="1.1"/><rect x="76.5" y="195.5" width="1.1" height="1.1"/><rect x="126.2" y="61.3" width="1.1" height="1.1"/><rect x="108.3" y="156.8" width="1.1" height="1.1"/><rect x="107.3" y="85.0" width="1.1" height="1.1"/><rect x="123.9" y="37.2" width="1.1" height="1.1"/><rect x="107.2" y="53.5" width="1.1" height="1.1"/><rect x="131.8" y="191.1" width="1.1" height="1.1"/><rect x="128.9" y="216.2" width="1.1" height="1.1"/><rect x="129.4" y="176.7" width="1.1" height="1.1"/><rect x="103.1" y="173.8" width="1.1" height="1.1"/><rect x="108.1" y="254.7" width="1.1" height="1.1"/><rect x="84.5" y="71.9" width="1.1" height="1.1"/><rect x="99.7" y="80.3" width="1.1" height="1.1"/><rect x="128.2" y="105.0" width="1.1" height="1.1"/><rect x="93.3" y="67.7" width="1.1" height="1.1"/><rect x="96.4" y="32.4" width="1.1" height="1.1"/><rect x="110.4" y="38.6" width="1.1" height="1.1"/><rect x="99.3" y="26.9" width="1.1" height="1.1"/><rect x="104.4" y="223.5" width="1.1" height="1.1"/><rect x="119.6" y="225.2" width="1.1" height="1.1"/><rect x="84.3" y="191.8" width="1.1" height="1.1"/><rect x="106.1" y="99.3" width="1.1" height="1.1"/><rect x="108.9" y="172.2" width="1.1" height="1.1"/><rect x="106.5" y="67.5" width="1.1" height="1.1"/><rect x="129.9" y="245.4" width="1.1" height="1.1"/><rect x="113.4" y="234.4" width="1.1" height="1.1"/><rect x="101.2" y="67.3" width="1.1" height="1.1"/><rect x="121.3" y="164.3" width="1.1" height="1.1"/><rect x="90.6" y="89.4" width="1.1" height="1.1"/><rect x="89.0" y="14.7" width="1.1" height="1.1"/><rect x="104.1" y="73.5" width="1.1" height="1.1"/><rect x="81.9" y="43.4" width="1.1" height="1.1"/><rect x="122.1" y="46.3" width="1.1" height="1.1"/><rect x="86.8" y="67.6" width="1.1" height="1.1"/><rect x="68.4" y="248.2" width="1.1" height="1.1"/><rect x="103.5" y="35.0" width="1.1" height="1.1"/><rect x="124.7" y="114.0" width="1.1" height="1.1"/><rect x="104.1" y="172.4" width="1.1" height="1.1"/><rect x="69.0" y="249.6" width="1.1" height="1.1"/><rect x="96.4" y="151.6" width="1.1" height="1.1"/><rect x="70.4" y="140.0" width="1.1" height="1.1"/><rect x="114.0" y="165.1" width="1.1" height="1.1"/><rect x="107.9" y="178.5" width="1.1" height="1.1"/><rect x="84.7" y="67.2" width="1.1" height="1.1"/><rect x="97.9" y="234.0" width="1.1" height="1.1"/><rect x="98.6" y="40.9" width="1.1" height="1.1"/><rect x="113.1" y="110.5" width="1.1" height="1.1"/><rect x="118.6" y="118.3" width="1.1" height="1.1"/><rect x="112.4" y="200.7" width="1.1" height="1.1"/><rect x="120.4" y="84.2" width="1.1" height="1.1"/><rect x="81.9" y="221.4" width="1.1" height="1.1"/><rect x="81.9" y="190.4" width="1.1" height="1.1"/><rect x="93.3" y="10.0" width="1.1" height="1.1"/><rect x="71.9" y="255.8" width="1.1" height="1.1"/><rect x="98.2" y="251.5" width="1.1" height="1.1"/><rect x="103.3" y="128.7" width="1.1" height="1.1"/><rect x="83.8" y="165.0" width="1.1" height="1.1"/><rect x="115.5" y="191.2" width="1.1" height="1.1"/><rect x="111.3" y="21.8" width="1.1" height="1.1"/><rect x="82.0" y="208.3" width="1.1" height="1.1"/><rect x="105.4" y="210.0" width="1.1" height="1.1"/><rect x="110.9" y="43.6" width="1.1" height="1.1"/><rect x="102.4" y="73.6" width="1.1" height="1.1"/><rect x="108.4" y="64.2" width="1.1" height="1.1"/><rect x="98.6" y="60.2" width="1.1" height="1.1"/><rect x="118.0" y="201.8" width="1.1" height="1.1"/><rect x="87.6" y="207.6" width="1.1" height="1.1"/><rect x="102.6" y="31.3" width="1.1" height="1.1"/><rect x="106.3" y="124.4" width="1.1" height="1.1"/><rect x="89.6" y="188.1" width="1.1" height="1.1"/><rect x="95.2" y="129.9" width="1.1" height="1.1"/><rect x="101.3" y="187.1" width="1.1" height="1.1"/><rect x="98.0" y="163.7" width="1.1" height="1.1"/><rect x="129.5" y="78.6" width="1.1" height="1.1"/><rect x="84.1" y="41.2" width="1.1" height="1.1"/><rect x="68.7" y="201.7" width="1.1" height="1.1"/><rect x="101.9" y="21.8" width="1.1" height="1.1"/><rect x="85.4" y="50.0" width="1.1" height="1.1"/><rect x="130.3" y="115.4" width="1.1" height="1.1"/><rect x="99.7" y="231.9" width="1.1" height="1.1"/><rect x="98.7" y="160.0" width="1.1" height="1.1"/><rect x="78.5" y="192.5" width="1.1" height="1.1"/><rect x="127.6" y="93.7" width="1.1" height="1.1"/><rect x="76.7" y="222.6" width="1.1" height="1.1"/><rect x="95.2" y="94.4" width="1.1" height="1.1"/><rect x="64.2" y="224.8" width="1.1" height="1.1"/><rect x="129.0" y="247.0" width="1.1" height="1.1"/><rect x="108.5" y="75.5" width="1.1" height="1.1"/><rect x="127.3" y="111.6" width="1.1" height="1.1"/><rect x="112.0" y="191.0" width="1.1" height="1.1"/><rect x="119.9" y="218.9" width="1.1" height="1.1"/><rect x="109.2" y="220.0" width="1.1" height="1.1"/><rect x="67.6" y="178.2" width="1.1" height="1.1"/><rect x="89.4" y="145.9" width="1.1" height="1.1"/><rect x="107.3" y="204.6" width="1.1" height="1.1"/><rect x="100.6" y="90.8" width="1.1" height="1.1"/><rect x="95.9" y="194.3" width="1.1" height="1.1"/><rect x="132.6" y="232.7" width="1.1" height="1.1"/><rect x="107.5" y="152.3" width="1.1" height="1.1"/><rect x="94.9" y="138.6" width="1.1" height="1.1"/><rect x="111.2" y="175.4" width="1.1" height="1.1"/><rect x="102.2" y="116.3" width="1.1" height="1.1"/><rect x="80.6" y="206.2" width="1.1" height="1.1"/><rect x="130.9" y="209.4" width="1.1" height="1.1"/><rect x="115.2" y="117.4" width="1.1" height="1.1"/><rect x="91.1" y="59.4" width="1.1" height="1.1"/><rect x="100.6" y="55.7" width="1.1" height="1.1"/><rect x="116.0" y="259.0" width="1.1" height="1.1"/><rect x="100.6" y="60.8" width="1.1" height="1.1"/><rect x="110.5" y="149.0" width="1.1" height="1.1"/><rect x="97.3" y="115.0" width="1.1" height="1.1"/><rect x="99.6" y="126.1" width="1.1" height="1.1"/><rect x="91.9" y="68.3" width="1.1" height="1.1"/><rect x="117.5" y="189.2" width="1.1" height="1.1"/><rect x="102.5" y="240.3" width="1.1" height="1.1"/><rect x="88.0" y="208.2" width="1.1" height="1.1"/><rect x="109.6" y="70.3" width="1.1" height="1.1"/><rect x="95.9" y="49.5" width="1.1" height="1.1"/><rect x="97.4" y="54.9" width="1.1" height="1.1"/><rect x="104.1" y="126.9" width="1.1" height="1.1"/><rect x="110.8" y="109.8" width="1.1" height="1.1"/><rect x="126.5" y="152.1" width="1.1" height="1.1"/><rect x="104.9" y="97.6" width="1.1" height="1.1"/><rect x="118.0" y="147.6" width="1.1" height="1.1"/><rect x="118.8" y="45.3" width="1.1" height="1.1"/><rect x="89.5" y="156.5" width="1.1" height="1.1"/><rect x="104.5" y="146.3" width="1.1" height="1.1"/><rect x="91.3" y="15.7" width="1.1" height="1.1"/><rect x="128.5" y="96.5" width="1.1" height="1.1"/><rect x="92.8" y="128.2" width="1.1" height="1.1"/><rect x="80.8" y="205.5" width="1.1" height="1.1"/><rect x="88.9" y="143.7" width="1.1" height="1.1"/><rect x="85.6" y="14.4" width="1.1" height="1.1"/><rect x="101.2" y="45.7" width="1.1" height="1.1"/><rect x="105.8" y="236.6" width="1.1" height="1.1"/><rect x="117.9" y="117.5" width="1.1" height="1.1"/><rect x="125.8" y="105.4" width="1.1" height="1.1"/><rect x="102.4" y="18.5" width="1.1" height="1.1"/><rect x="85.7" y="37.1" width="1.1" height="1.1"/><rect x="99.9" y="117.6" width="1.1" height="1.1"/><rect x="87.0" y="185.5" width="1.1" height="1.1"/><rect x="97.0" y="179.2" width="1.1" height="1.1"/><rect x="128.8" y="152.9" width="1.1" height="1.1"/><rect x="129.0" y="93.2" width="1.1" height="1.1"/><rect x="90.0" y="237.7" width="1.1" height="1.1"/><rect x="64.1" y="205.5" width="1.1" height="1.1"/><rect x="105.4" y="112.5" width="1.1" height="1.1"/><rect x="106.1" y="247.9" width="1.1" height="1.1"/><rect x="124.1" y="234.9" width="1.1" height="1.1"/><rect x="87.8" y="256.7" width="1.1" height="1.1"/><rect x="106.9" y="131.2" width="1.1" height="1.1"/><rect x="125.7" y="155.6" width="1.1" height="1.1"/><rect x="114.6" y="78.2" width="1.1" height="1.1"/><rect x="120.7" y="191.6" width="1.1" height="1.1"/><rect x="91.8" y="172.6" width="1.1" height="1.1"/><rect x="122.0" y="115.7" width="1.1" height="1.1"/><rect x="122.8" y="127.2" width="1.1" height="1.1"/><rect x="112.1" y="256.1" width="1.1" height="1.1"/><rect x="101.4" y="232.3" width="1.1" height="1.1"/><rect x="92.2" y="55.3" width="1.1" height="1.1"/><rect x="117.7" y="93.1" width="1.1" height="1.1"/><rect x="133.2" y="237.2" width="1.1" height="1.1"/><rect x="118.0" y="251.8" width="1.1" height="1.1"/><rect x="88.0" y="210.4" width="1.1" height="1.1"/><rect x="75.6" y="249.5" width="1.1" height="1.1"/><rect x="100.2" y="147.5" width="1.1" height="1.1"/><rect x="103.7" y="76.0" width="1.1" height="1.1"/><rect x="100.4" y="156.3" width="1.1" height="1.1"/><rect x="95.1" y="250.7" width="1.1" height="1.1"/><rect x="107.5" y="40.0" width="1.1" height="1.1"/><rect x="128.1" y="167.5" width="1.1" height="1.1"/><rect x="87.3" y="99.1" width="1.1" height="1.1"/><rect x="110.3" y="25.1" width="1.1" height="1.1"/><rect x="115.8" y="218.2" width="1.1" height="1.1"/><rect x="87.3" y="257.0" width="1.1" height="1.1"/><rect x="83.0" y="251.3" width="1.1" height="1.1"/><rect x="90.2" y="12.3" width="1.1" height="1.1"/><rect x="123.4" y="137.9" width="1.1" height="1.1"/><rect x="92.4" y="76.6" width="1.1" height="1.1"/><rect x="108.8" y="257.4" width="1.1" height="1.1"/><rect x="94.3" y="72.8" width="1.1" height="1.1"/><rect x="97.4" y="49.0" width="1.1" height="1.1"/><rect x="108.6" y="12.8" width="1.1" height="1.1"/><rect x="103.7" y="215.0" width="1.1" height="1.1"/><rect x="114.5" y="200.3" width="1.1" height="1.1"/><rect x="130.3" y="122.2" width="1.1" height="1.1"/><rect x="85.7" y="54.2" width="1.1" height="1.1"/><rect x="101.4" y="114.9" width="1.1" height="1.1"/><rect x="106.4" y="70.1" width="1.1" height="1.1"/><rect x="107.5" y="116.2" width="1.1" height="1.1"/><rect x="116.1" y="92.8" width="1.1" height="1.1"/><rect x="121.2" y="136.7" width="1.1" height="1.1"/><rect x="106.1" y="234.7" width="1.1" height="1.1"/><rect x="91.3" y="92.7" width="1.1" height="1.1"/><rect x="103.1" y="116.7" width="1.1" height="1.1"/><rect x="105.4" y="34.0" width="1.1" height="1.1"/><rect x="134.8" y="211.2" width="1.1" height="1.1"/><rect x="100.3" y="127.4" width="1.1" height="1.1"/><rect x="96.4" y="209.2" width="1.1" height="1.1"/><rect x="72.1" y="118.5" width="1.1" height="1.1"/><rect x="75.3" y="225.2" width="1.1" height="1.1"/><rect x="92.6" y="188.2" width="1.1" height="1.1"/><rect x="95.8" y="9.9" width="1.1" height="1.1"/><rect x="133.9" y="258.1" width="1.1" height="1.1"/><rect x="137.8" y="225.3" width="1.1" height="1.1"/><rect x="107.6" y="246.0" width="1.1" height="1.1"/><rect x="93.0" y="102.4" width="1.1" height="1.1"/><rect x="110.0" y="135.0" width="1.1" height="1.1"/><rect x="76.0" y="201.5" width="1.1" height="1.1"/><rect x="97.0" y="136.7" width="1.1" height="1.1"/><rect x="89.5" y="62.2" width="1.1" height="1.1"/><rect x="81.5" y="192.3" width="1.1" height="1.1"/><rect x="111.5" y="172.6" width="1.1" height="1.1"/><rect x="113.6" y="77.2" width="1.1" height="1.1"/><rect x="103.9" y="210.1" width="1.1" height="1.1"/><rect x="94.3" y="130.9" width="1.1" height="1.1"/><rect x="76.5" y="221.2" width="1.1" height="1.1"/><rect x="88.9" y="54.8" width="1.1" height="1.1"/><rect x="128.7" y="222.2" width="1.1" height="1.1"/><rect x="73.4" y="115.8" width="1.1" height="1.1"/><rect x="87.7" y="118.9" width="1.1" height="1.1"/><rect x="91.9" y="103.8" width="1.1" height="1.1"/><rect x="65.9" y="165.1" width="1.1" height="1.1"/><rect x="79.2" y="161.7" width="1.1" height="1.1"/><rect x="112.9" y="236.3" width="1.1" height="1.1"/><rect x="97.4" y="159.5" width="1.1" height="1.1"/><rect x="120.4" y="103.3" width="1.1" height="1.1"/><rect x="89.7" y="22.6" width="1.1" height="1.1"/><rect x="128.0" y="203.5" width="1.1" height="1.1"/><rect x="101.4" y="31.7" width="1.1" height="1.1"/><rect x="106.7" y="101.2" width="1.1" height="1.1"/><rect x="82.9" y="254.5" width="1.1" height="1.1"/><rect x="107.1" y="98.4" width="1.1" height="1.1"/><rect x="72.0" y="247.8" width="1.1" height="1.1"/><rect x="88.6" y="142.0" width="1.1" height="1.1"/><rect x="108.2" y="93.7" width="1.1" height="1.1"/><rect x="80.7" y="174.6" width="1.1" height="1.1"/><rect x="117.1" y="16.2" width="1.1" height="1.1"/><rect x="83.8" y="177.9" width="1.1" height="1.1"/><rect x="118.1" y="182.5" width="1.1" height="1.1"/><rect x="96.1" y="136.4" width="1.1" height="1.1"/><rect x="96.9" y="42.7" width="1.1" height="1.1"/><rect x="96.9" y="151.9" width="1.1" height="1.1"/><rect x="106.4" y="150.7" width="1.1" height="1.1"/><rect x="100.0" y="172.2" width="1.1" height="1.1"/><rect x="113.2" y="191.0" width="1.1" height="1.1"/><rect x="122.5" y="181.1" width="1.1" height="1.1"/><rect x="109.4" y="15.5" width="1.1" height="1.1"/><rect x="89.3" y="48.9" width="1.1" height="1.1"/><rect x="121.7" y="235.3" width="1.1" height="1.1"/><rect x="69.7" y="240.6" width="1.1" height="1.1"/><rect x="109.5" y="147.0" width="1.1" height="1.1"/><rect x="78.6" y="205.5" width="1.1" height="1.1"/><rect x="102.0" y="216.8" width="1.1" height="1.1"/><rect x="73.7" y="247.5" width="1.1" height="1.1"/><rect x="90.5" y="98.2" width="1.1" height="1.1"/><rect x="118.0" y="173.5" width="1.1" height="1.1"/><rect x="96.5" y="32.6" width="1.1" height="1.1"/><rect x="72.6" y="63.4" width="1.1" height="1.1"/><rect x="118.5" y="147.0" width="1.1" height="1.1"/><rect x="115.5" y="224.7" width="1.1" height="1.1"/><rect x="89.8" y="118.2" width="1.1" height="1.1"/><rect x="81.0" y="136.4" width="1.1" height="1.1"/><rect x="90.8" y="106.0" width="1.1" height="1.1"/><rect x="101.2" y="143.4" width="1.1" height="1.1"/><rect x="109.3" y="58.8" width="1.1" height="1.1"/><rect x="98.8" y="204.3" width="1.1" height="1.1"/><rect x="71.5" y="101.9" width="1.1" height="1.1"/><rect x="105.3" y="181.8" width="1.1" height="1.1"/><rect x="108.2" y="226.6" width="1.1" height="1.1"/><rect x="86.0" y="131.3" width="1.1" height="1.1"/><rect x="109.9" y="189.7" width="1.1" height="1.1"/><rect x="74.5" y="183.3" width="1.1" height="1.1"/><rect x="71.4" y="107.1" width="1.1" height="1.1"/><rect x="96.4" y="137.0" width="1.1" height="1.1"/><rect x="120.2" y="216.7" width="1.1" height="1.1"/><rect x="89.8" y="174.2" width="1.1" height="1.1"/><rect x="91.7" y="225.2" width="1.1" height="1.1"/><rect x="111.9" y="253.6" width="1.1" height="1.1"/><rect x="101.2" y="219.8" width="1.1" height="1.1"/><rect x="91.3" y="173.2" width="1.1" height="1.1"/><rect x="116.1" y="93.2" width="1.1" height="1.1"/><rect x="110.2" y="101.2" width="1.1" height="1.1"/><rect x="108.3" y="139.7" width="1.1" height="1.1"/><rect x="113.3" y="251.2" width="1.1" height="1.1"/><rect x="120.7" y="78.7" width="1.1" height="1.1"/><rect x="101.7" y="78.0" width="1.1" height="1.1"/><rect x="87.0" y="68.5" width="1.1" height="1.1"/><rect x="125.7" y="84.7" width="1.1" height="1.1"/><rect x="98.2" y="13.8" width="1.1" height="1.1"/><rect x="111.2" y="64.6" width="1.1" height="1.1"/><rect x="132.0" y="214.3" width="1.1" height="1.1"/><rect x="91.6" y="194.5" width="1.1" height="1.1"/><rect x="111.8" y="34.1" width="1.1" height="1.1"/><rect x="111.0" y="133.2" width="1.1" height="1.1"/><rect x="93.2" y="132.9" width="1.1" height="1.1"/><rect x="103.5" y="102.5" width="1.1" height="1.1"/><rect x="83.1" y="256.6" width="1.1" height="1.1"/><rect x="137.8" y="162.0" width="1.1" height="1.1"/><rect x="69.7" y="211.4" width="1.1" height="1.1"/><rect x="94.1" y="52.9" width="1.1" height="1.1"/><rect x="108.4" y="35.1" width="1.1" height="1.1"/><rect x="102.0" y="19.8" width="1.1" height="1.1"/><rect x="103.6" y="183.0" width="1.1" height="1.1"/><rect x="125.2" y="250.2" width="1.1" height="1.1"/><rect x="134.7" y="194.7" width="1.1" height="1.1"/><rect x="99.7" y="228.8" width="1.1" height="1.1"/><rect x="127.9" y="208.7" width="1.1" height="1.1"/><rect x="106.9" y="51.6" width="1.1" height="1.1"/><rect x="102.2" y="84.7" width="1.1" height="1.1"/><rect x="108.2" y="102.8" width="1.1" height="1.1"/><rect x="122.9" y="154.5" width="1.1" height="1.1"/><rect x="72.7" y="256.4" width="1.1" height="1.1"/><rect x="105.5" y="211.4" width="1.1" height="1.1"/><rect x="82.2" y="75.5" width="1.1" height="1.1"/><rect x="132.4" y="166.1" width="1.1" height="1.1"/><rect x="92.7" y="150.7" width="1.1" height="1.1"/><rect x="133.8" y="170.4" width="1.1" height="1.1"/><rect x="82.8" y="120.4" width="1.1" height="1.1"/><rect x="115.7" y="211.2" width="1.1" height="1.1"/><rect x="99.9" y="40.9" width="1.1" height="1.1"/><rect x="87.4" y="166.9" width="1.1" height="1.1"/><rect x="105.3" y="203.9" width="1.1" height="1.1"/><rect x="88.2" y="170.4" width="1.1" height="1.1"/><rect x="103.5" y="258.1" width="1.1" height="1.1"/><rect x="106.4" y="218.2" width="1.1" height="1.1"/><rect x="104.5" y="164.2" width="1.1" height="1.1"/><rect x="97.3" y="209.1" width="1.1" height="1.1"/><rect x="130.3" y="198.6" width="1.1" height="1.1"/><rect x="104.9" y="215.5" width="1.1" height="1.1"/><rect x="115.3" y="199.3" width="1.1" height="1.1"/><rect x="98.3" y="237.4" width="1.1" height="1.1"/><rect x="92.4" y="164.8" width="1.1" height="1.1"/><rect x="112.4" y="12.5" width="1.1" height="1.1"/><rect x="83.6" y="171.0" width="1.1" height="1.1"/><rect x="107.2" y="141.2" width="1.1" height="1.1"/><rect x="84.2" y="246.9" width="1.1" height="1.1"/><rect x="100.2" y="13.7" width="1.1" height="1.1"/><rect x="106.5" y="108.3" width="1.1" height="1.1"/><rect x="84.0" y="42.4" width="1.1" height="1.1"/><rect x="123.7" y="135.8" width="1.1" height="1.1"/><rect x="63.7" y="211.6" width="1.1" height="1.1"/><rect x="122.1" y="215.5" width="1.1" height="1.1"/><rect x="128.0" y="255.2" width="1.1" height="1.1"/><rect x="74.8" y="150.7" width="1.1" height="1.1"/><rect x="117.0" y="231.3" width="1.1" height="1.1"/><rect x="113.2" y="200.6" width="1.1" height="1.1"/><rect x="129.1" y="212.8" width="1.1" height="1.1"/><rect x="109.0" y="29.9" width="1.1" height="1.1"/><rect x="81.6" y="111.3" width="1.1" height="1.1"/><rect x="103.9" y="187.6" width="1.1" height="1.1"/><rect x="114.0" y="40.8" width="1.1" height="1.1"/><rect x="123.6" y="90.3" width="1.1" height="1.1"/><rect x="130.6" y="129.2" width="1.1" height="1.1"/><rect x="106.1" y="121.4" width="1.1" height="1.1"/><rect x="89.0" y="48.1" width="1.1" height="1.1"/><rect x="72.8" y="232.0" width="1.1" height="1.1"/><rect x="100.6" y="174.0" width="1.1" height="1.1"/><rect x="133.7" y="237.1" width="1.1" height="1.1"/><rect x="139.2" y="239.3" width="1.1" height="1.1"/><rect x="92.1" y="221.0" width="1.1" height="1.1"/><rect x="79.4" y="126.1" width="1.1" height="1.1"/><rect x="100.1" y="191.7" width="1.1" height="1.1"/><rect x="84.5" y="245.3" width="1.1" height="1.1"/><rect x="98.7" y="154.8" width="1.1" height="1.1"/><rect x="94.7" y="156.7" width="1.1" height="1.1"/><rect x="85.3" y="149.8" width="1.1" height="1.1"/><rect x="102.0" y="231.3" width="1.1" height="1.1"/><rect x="107.6" y="19.6" width="1.1" height="1.1"/><rect x="118.1" y="214.0" width="1.1" height="1.1"/><rect x="101.5" y="165.4" width="1.1" height="1.1"/><rect x="109.8" y="212.9" width="1.1" height="1.1"/><rect x="112.6" y="172.5" width="1.1" height="1.1"/><rect x="79.0" y="142.1" width="1.1" height="1.1"/><rect x="111.9" y="12.2" width="1.1" height="1.1"/><rect x="81.4" y="188.7" width="1.1" height="1.1"/><rect x="135.0" y="255.4" width="1.1" height="1.1"/><rect x="80.3" y="145.3" width="1.1" height="1.1"/><rect x="117.5" y="131.3" width="1.1" height="1.1"/><rect x="97.3" y="200.0" width="1.1" height="1.1"/><rect x="121.3" y="176.2" width="1.1" height="1.1"/><rect x="105.2" y="86.7" width="1.1" height="1.1"/><rect x="85.3" y="45.9" width="1.1" height="1.1"/><rect x="121.3" y="243.6" width="1.1" height="1.1"/><rect x="133.6" y="149.3" width="1.1" height="1.1"/><rect x="92.9" y="12.3" width="1.1" height="1.1"/><rect x="103.5" y="86.2" width="1.1" height="1.1"/><rect x="104.9" y="100.8" width="1.1" height="1.1"/><rect x="117.5" y="85.3" width="1.1" height="1.1"/><rect x="73.1" y="206.8" width="1.1" height="1.1"/><rect x="132.5" y="161.1" width="1.1" height="1.1"/><rect x="95.7" y="68.5" width="1.1" height="1.1"/><rect x="107.9" y="19.3" width="1.1" height="1.1"/><rect x="111.0" y="207.7" width="1.1" height="1.1"/><rect x="115.8" y="40.6" width="1.1" height="1.1"/><rect x="105.4" y="231.8" width="1.1" height="1.1"/><rect x="134.1" y="202.6" width="1.1" height="1.1"/><rect x="87.8" y="204.9" width="1.1" height="1.1"/><rect x="76.4" y="84.3" width="1.1" height="1.1"/><rect x="137.0" y="178.3" width="1.1" height="1.1"/><rect x="117.8" y="248.2" width="1.1" height="1.1"/><rect x="93.2" y="160.5" width="1.1" height="1.1"/><rect x="97.6" y="77.8" width="1.1" height="1.1"/><rect x="111.1" y="257.7" width="1.1" height="1.1"/><rect x="94.8" y="154.8" width="1.1" height="1.1"/><rect x="87.3" y="9.8" width="1.1" height="1.1"/><rect x="66.7" y="219.3" width="1.1" height="1.1"/><rect x="124.6" y="132.2" width="1.1" height="1.1"/><rect x="94.6" y="228.0" width="1.1" height="1.1"/><rect x="89.8" y="136.9" width="1.1" height="1.1"/><rect x="114.2" y="87.3" width="1.1" height="1.1"/><rect x="119.5" y="228.7" width="1.1" height="1.1"/><rect x="105.8" y="60.5" width="1.1" height="1.1"/><rect x="117.8" y="50.9" width="1.1" height="1.1"/><rect x="101.1" y="253.5" width="1.1" height="1.1"/><rect x="111.5" y="171.0" width="1.1" height="1.1"/><rect x="100.9" y="173.0" width="1.1" height="1.1"/><rect x="96.4" y="152.1" width="1.1" height="1.1"/><rect x="129.6" y="99.4" width="1.1" height="1.1"/><rect x="108.2" y="107.8" width="1.1" height="1.1"/><rect x="102.2" y="80.5" width="1.1" height="1.1"/><rect x="111.9" y="69.3" width="1.1" height="1.1"/><rect x="82.0" y="126.4" width="1.1" height="1.1"/><rect x="112.1" y="224.9" width="1.1" height="1.1"/><rect x="69.9" y="123.8" width="1.1" height="1.1"/><rect x="130.6" y="175.4" width="1.1" height="1.1"/><rect x="76.3" y="163.1" width="1.1" height="1.1"/><rect x="110.9" y="191.6" width="1.1" height="1.1"/><rect x="93.7" y="246.9" width="1.1" height="1.1"/><rect x="115.7" y="168.5" width="1.1" height="1.1"/><rect x="82.3" y="234.2" width="1.1" height="1.1"/><rect x="97.7" y="48.0" width="1.1" height="1.1"/><rect x="99.1" y="50.4" width="1.1" height="1.1"/><rect x="96.7" y="198.9" width="1.1" height="1.1"/><rect x="74.1" y="140.3" width="1.1" height="1.1"/><rect x="88.6" y="124.2" width="1.1" height="1.1"/><rect x="94.1" y="144.8" width="1.1" height="1.1"/><rect x="98.6" y="146.5" width="1.1" height="1.1"/><rect x="116.7" y="206.7" width="1.1" height="1.1"/><rect x="91.3" y="172.5" width="1.1" height="1.1"/><rect x="110.4" y="214.5" width="1.1" height="1.1"/><rect x="124.1" y="94.3" width="1.1" height="1.1"/><rect x="97.7" y="172.3" width="1.1" height="1.1"/><rect x="68.1" y="169.7" width="1.1" height="1.1"/><rect x="96.3" y="96.5" width="1.1" height="1.1"/><rect x="108.0" y="70.9" width="1.1" height="1.1"/><rect x="98.5" y="136.7" width="1.1" height="1.1"/><rect x="104.7" y="137.5" width="1.1" height="1.1"/><rect x="66.6" y="232.5" width="1.1" height="1.1"/><rect x="88.7" y="13.6" width="1.1" height="1.1"/><rect x="86.0" y="204.5" width="1.1" height="1.1"/><rect x="115.5" y="181.3" width="1.1" height="1.1"/><rect x="99.4" y="111.1" width="1.1" height="1.1"/><rect x="105.6" y="109.6" width="1.1" height="1.1"/><rect x="88.7" y="209.0" width="1.1" height="1.1"/><rect x="110.0" y="225.1" width="1.1" height="1.1"/><rect x="81.5" y="38.4" width="1.1" height="1.1"/><rect x="97.7" y="89.5" width="1.1" height="1.1"/><rect x="104.3" y="208.0" width="1.1" height="1.1"/><rect x="77.4" y="101.9" width="1.1" height="1.1"/><rect x="101.4" y="93.9" width="1.1" height="1.1"/><rect x="105.7" y="229.7" width="1.1" height="1.1"/><rect x="84.7" y="147.8" width="1.1" height="1.1"/><rect x="136.9" y="209.2" width="1.1" height="1.1"/><rect x="96.1" y="211.5" width="1.1" height="1.1"/><rect x="109.5" y="34.7" width="1.1" height="1.1"/><rect x="93.1" y="210.7" width="1.1" height="1.1"/><rect x="104.0" y="203.7" width="1.1" height="1.1"/><rect x="121.5" y="48.1" width="1.1" height="1.1"/><rect x="85.3" y="108.5" width="1.1" height="1.1"/><rect x="86.8" y="204.7" width="1.1" height="1.1"/><rect x="106.2" y="180.2" width="1.1" height="1.1"/><rect x="87.4" y="187.5" width="1.1" height="1.1"/><rect x="139.4" y="214.8" width="1.1" height="1.1"/><rect x="102.3" y="20.3" width="1.1" height="1.1"/></g>
<rect x="33" y="215" width="5.2" height="38" fill="#000"/>
<text transform="translate(44,232) rotate(90)" font-family="Liberation Sans, sans-serif" font-size="17" text-anchor="middle" fill="#000">50 nm</text>
<text x="27" y="34" font-family="Liberation Sans, sans-serif" font-size="31">a</text>
<text x="100" y="287.6" font-family="Liberation Sans, sans-serif" font-size="22.2" text-anchor="middle">Li</text>
<text x="262.6" y="287.8" font-family="Liberation Sans, sans-serif" font-size="22.2" text-anchor="middle">Mn</text>
<text x="440.6" y="286.8" font-family="Liberation Sans, sans-serif" font-size="22.2" text-anchor="middle">Sb</text>
<text x="604.4" y="285.6" font-family="Liberation Sans, sans-serif" font-size="22.2" text-anchor="middle">Te</text>
<text x="6" y="328" font-family="Liberation Sans, sans-serif" font-size="30">b</text>
<text x="231.5" y="321.5" font-family="Liberation Sans, sans-serif" font-size="30">c</text>
<text x="428.5" y="322" font-family="Liberation Sans, sans-serif" font-size="30">d</text>
<polyline points="23.60,494.87 26.21,494.87 26.21,494.81 28.82,494.81 28.82,494.75 31.43,494.75 31.43,494.67 34.04,494.67 34.04,494.57 36.65,494.57 36.65,494.46 39.26,494.46 39.26,494.32 41.87,494.32 41.87,494.17 44.48,494.17 44.48,493.98 47.09,493.98 47.09,493.76 49.70,493.76 49.70,493.50 52.31,493.50 52.31,493.20 54.92,493.20 54.92,492.85 57.53,492.85 57.53,492.43 60.14,492.43 60.14,491.94 62.75,491.94 62.75,491.36 65.36,491.36 65.36,490.67 67.97,490.67 67.97,489.85 70.58,489.85 70.58,488.87 73.19,488.87 73.19,487.70 75.80,487.70 75.80,486.29 78.41,486.29 78.41,484.62 81.02,484.62 81.02,482.63 83.63,482.63 83.63,480.28 86.24,480.28 86.24,477.51 88.85,477.51 88.85,474.28 91.46,474.28 91.46,470.55 94.07,470.55 94.07,466.30 96.68,466.30 96.68,461.51 99.29,461.51 99.29,456.20 101.90,456.20 101.90,450.41 104.51,450.41 104.51,444.19 107.12,444.19 107.12,437.64 109.73,437.64 109.73,430.89 112.34,430.89 112.34,424.09 114.95,424.09 114.95,417.43 117.56,417.43 117.56,411.10 120.17,411.10 120.17,405.29 122.78,405.29 122.78,400.22 125.39,400.22 125.39,396.05 128.00,396.05 128.00,392.95 130.61,392.95 130.61,391.04 133.22,391.04 133.22,390.40 135.83,390.40 135.83,386.24 138.44,386.24 138.44,392.95 141.05,392.95 141.05,396.05 143.66,396.05 143.66,400.22 146.27,400.22 146.27,405.29 148.88,405.29 148.88,411.10 151.49,411.10 151.49,417.43 154.10,417.43 154.10,424.09 156.71,424.09 156.71,430.89 159.32,430.89 159.32,437.64 161.93,437.64 161.93,444.19 164.54,444.19 164.54,450.41 167.15,450.41 167.15,456.20 169.76,456.20 169.76,461.51 172.37,461.51 172.37,466.30 174.98,466.30 174.98,470.55 177.59,470.55 177.59,474.28 180.20,474.28 180.20,477.51 182.81,477.51 182.81,480.28 185.42,480.28 185.42,482.63 188.03,482.63 188.03,484.62 190.64,484.62 190.64,486.29 193.25,486.29 193.25,487.70 195.86,487.70 195.86,488.87 198.47,488.87 198.47,489.85 201.08,489.85 201.08,490.67 203.69,490.67 203.69,491.36 206.30,491.36 206.30,491.94 208.91,491.94 208.91,492.43 211.52,492.43 211.52,492.85 214.13,492.85 214.13,493.20 216.74,493.20 216.74,493.50 219.35,493.50 219.35,493.76 221.96,493.76 221.96,493.98 224.57,493.98 224.57,494.17 227.18,494.17 227.18,494.32 229.79,494.32 229.79,494.46 232.40,494.46" fill="none" stroke="#c8a296" stroke-width="1.3"/>
<path d="M23.60,495.10 L24.12,495.10 L24.65,495.10 L25.17,495.10 L25.69,495.10 L26.22,495.10 L26.74,495.10 L27.26,495.10 L27.79,495.10 L28.31,495.10 L28.83,495.10 L29.36,495.10 L29.88,495.10 L30.40,495.10 L30.93,495.10 L31.45,495.10 L31.97,495.10 L32.50,495.10 L33.02,495.10 L33.54,495.10 L34.07,495.10 L34.59,495.10 L35.11,495.10 L35.64,495.10 L36.16,495.10 L36.68,495.10 L37.21,495.10 L37.73,495.10 L38.25,495.10 L38.78,495.10 L39.30,495.10 L39.82,495.10 L40.35,495.10 L40.87,495.10 L41.39,495.10 L41.92,495.10 L42.44,495.10 L42.96,495.10 L43.49,495.10 L44.01,495.10 L44.53,495.10 L45.06,495.10 L45.58,495.10 L46.10,495.10 L46.63,495.10 L47.15,495.10 L47.67,495.10 L48.20,495.10 L48.72,495.10 L49.24,495.10 L49.77,495.10 L50.29,495.10 L50.81,495.10 L51.34,495.10 L51.86,495.10 L52.38,495.10 L52.91,495.10 L53.43,495.10 L53.95,495.10 L54.48,495.10 L55.00,495.10 L55.52,495.10 L56.05,495.10 L56.57,495.10 L57.09,495.10 L57.62,495.10 L58.14,495.10 L58.66,495.10 L59.18,495.10 L59.71,495.10 L60.23,495.10 L60.75,495.10 L61.28,495.10 L61.80,495.10 L62.32,495.10 L62.85,495.10 L63.37,495.10 L63.89,495.10 L64.42,495.10 L64.94,495.09 L65.46,495.09 L65.99,495.09 L66.51,495.09 L67.03,495.09 L67.56,495.09 L68.08,495.09 L68.60,495.08 L69.13,495.08 L69.65,495.08 L70.17,495.07 L70.70,495.07 L71.22,495.06 L71.74,495.06 L72.27,495.05 L72.79,495.04 L73.31,495.04 L73.84,495.03 L74.36,495.02 L74.88,495.00 L75.41,494.99 L75.93,494.97 L76.45,494.95 L76.98,494.93 L77.50,494.91 L78.02,494.88 L78.55,494.85 L79.07,494.81 L79.59,494.77 L80.12,494.73 L80.64,494.68 L81.16,494.63 L81.69,494.56 L82.21,494.50 L82.73,494.42 L83.26,494.34 L83.78,494.24 L84.30,494.14 L84.83,494.02 L85.35,493.89 L85.87,493.75 L86.40,493.60 L86.92,493.43 L87.44,493.24 L87.97,493.04 L88.49,492.81 L89.01,492.57 L89.54,492.30 L90.06,492.01 L90.58,491.69 L91.11,491.35 L91.63,490.98 L92.15,490.57 L92.68,490.13 L93.20,489.66 L93.72,489.15 L94.25,488.60 L94.77,488.01 L95.29,487.38 L95.82,486.70 L96.34,485.97 L96.86,485.19 L97.39,484.36 L97.91,483.47 L98.43,482.53 L98.96,481.53 L99.48,480.47 L100.00,479.34 L100.53,478.15 L101.05,476.89 L101.57,475.56 L102.10,474.17 L102.62,472.70 L103.14,471.15 L103.67,469.53 L104.19,467.84 L104.71,466.07 L105.24,464.22 L105.76,462.29 L106.28,460.29 L106.81,458.20 L107.33,456.04 L107.85,453.80 L108.38,451.49 L108.90,449.10 L109.42,446.64 L109.95,444.11 L110.47,441.51 L110.99,438.84 L111.52,436.10 L112.04,433.31 L112.56,430.46 L113.09,427.55 L113.61,424.60 L114.13,421.60 L114.66,418.57 L115.18,415.49 L115.70,412.39 L116.23,409.27 L116.75,406.13 L117.27,402.98 L117.80,399.82 L118.32,396.67 L118.84,393.52 L119.37,390.40 L119.89,387.29 L120.41,384.22 L120.94,381.19 L121.46,378.20 L121.98,375.27 L122.51,372.39 L123.03,369.59 L123.55,366.86 L124.08,364.21 L124.60,361.66 L125.12,359.20 L125.65,356.85 L126.17,354.60 L126.69,352.48 L127.22,350.47 L127.74,348.60 L128.26,346.86 L128.78,345.25 L129.31,343.79 L129.83,342.48 L130.35,341.31 L130.88,340.31 L131.40,339.45 L131.92,338.76 L132.45,338.23 L132.97,337.85 L133.49,337.65 L134.02,337.60 L134.54,337.72 L135.06,338.00 L135.59,338.43 L136.11,339.03 L136.63,339.79 L137.16,340.70 L137.68,341.75 L138.20,342.96 L138.73,344.31 L139.25,345.80 L139.77,347.42 L140.30,349.18 L140.82,351.05 L141.34,353.05 L141.87,355.15 L142.39,357.37 L142.91,359.68 L143.44,362.09 L143.96,364.58 L144.48,367.15 L145.01,369.80 L145.53,372.51 L146.05,375.28 L146.58,378.10 L147.10,380.97 L147.62,383.88 L148.15,386.81 L148.67,389.78 L149.19,392.76 L149.72,395.75 L150.24,398.75 L150.76,401.75 L151.29,404.74 L151.81,407.72 L152.33,410.68 L152.86,413.62 L153.38,416.53 L153.90,419.41 L154.43,422.26 L154.95,425.06 L155.47,427.82 L156.00,430.53 L156.52,433.20 L157.04,435.80 L157.57,438.35 L158.09,440.85 L158.61,443.28 L159.14,445.65 L159.66,447.95 L160.18,450.19 L160.71,452.36 L161.23,454.47 L161.75,456.51 L162.28,458.48 L162.80,460.38 L163.32,462.21 L163.85,463.97 L164.37,465.67 L164.89,467.30 L165.42,468.86 L165.94,470.36 L166.46,471.80 L166.99,473.17 L167.51,474.48 L168.03,475.72 L168.56,476.91 L169.08,478.05 L169.60,479.12 L170.13,480.14 L170.65,481.11 L171.17,482.03 L171.70,482.90 L172.22,483.72 L172.74,484.50 L173.27,485.23 L173.79,485.92 L174.31,486.57 L174.84,487.18 L175.36,487.75 L175.88,488.29 L176.41,488.79 L176.93,489.26 L177.45,489.70 L177.98,490.12 L178.50,490.50 L179.02,490.86 L179.55,491.19 L180.07,491.50 L180.59,491.79 L181.12,492.06 L181.64,492.31 L182.16,492.54 L182.69,492.76 L183.21,492.95 L183.73,493.14 L184.26,493.31 L184.78,493.46 L185.30,493.61 L185.83,493.74 L186.35,493.86 L186.87,493.97 L187.40,494.07 L187.92,494.17 L188.44,494.25 L188.97,494.33 L189.49,494.40 L190.01,494.47 L190.54,494.53 L191.06,494.59 L191.58,494.64 L192.11,494.68 L192.63,494.72 L193.15,494.76 L193.68,494.79 L194.20,494.82 L194.72,494.85 L195.25,494.88 L195.77,494.90 L196.29,494.92 L196.82,494.94 L197.34,494.96 L197.86,494.97 L198.38,494.99 L198.91,495.00 L199.43,495.01 L199.95,495.02 L200.48,495.03 L201.00,495.04 L201.52,495.04 L202.05,495.05 L202.57,495.06 L203.09,495.06 L203.62,495.06 L204.14,495.07 L204.66,495.07 L205.19,495.08 L205.71,495.08 L206.23,495.08 L206.76,495.08 L207.28,495.09 L207.80,495.09 L208.33,495.09 L208.85,495.09 L209.37,495.09 L209.90,495.09 L210.42,495.09 L210.94,495.09 L211.47,495.09 L211.99,495.10 L212.51,495.10 L213.04,495.10 L213.56,495.10 L214.08,495.10 L214.61,495.10 L215.13,495.10 L215.65,495.10 L216.18,495.10 L216.70,495.10 L217.22,495.10 L217.75,495.10 L218.27,495.10 L218.79,495.10 L219.32,495.10 L219.84,495.10 L220.36,495.10 L220.89,495.10 L221.41,495.10 L221.93,495.10 L222.46,495.10 L222.98,495.10 L223.50,495.10 L224.03,495.10 L224.55,495.10 L225.07,495.10 L225.60,495.10 L226.12,495.10 L226.64,495.10 L227.17,495.10 L227.69,495.10 L228.21,495.10 L228.74,495.10 L229.26,495.10 L229.78,495.10 L230.31,495.10 L230.83,495.10 L231.35,495.10 L231.88,495.10 L232.40,495.10" fill="none" stroke="#6b5aad" stroke-width="1.1"/>
<rect x="23.5" y="319.5" width="208.5" height="175.60000000000002" fill="none" stroke="#555" stroke-width="1.3"/>
<line x1="23.5" y1="340.6" x2="27.1" y2="340.6" stroke="#555" stroke-width="1.3"/>
<line x1="23.5" y1="366.2" x2="25.3" y2="366.2" stroke="#555" stroke-width="1.3"/>
<line x1="23.5" y1="392.4" x2="27.1" y2="392.4" stroke="#555" stroke-width="1.3"/>
<line x1="23.5" y1="417.9" x2="25.3" y2="417.9" stroke="#555" stroke-width="1.3"/>
<line x1="23.5" y1="443.5" x2="27.1" y2="443.5" stroke="#555" stroke-width="1.3"/>
<line x1="23.5" y1="469.4" x2="25.3" y2="469.4" stroke="#555" stroke-width="1.3"/>
<line x1="75.80" y1="495.1" x2="75.80" y2="493.3" stroke="#555" stroke-width="1.3"/>
<line x1="128.00" y1="495.1" x2="128.00" y2="493.3" stroke="#555" stroke-width="1.3"/>
<line x1="180.20" y1="495.1" x2="180.20" y2="493.3" stroke="#555" stroke-width="1.3"/>
<line x1="49.70" y1="495.1" x2="49.70" y2="491.5" stroke="#555" stroke-width="1.3"/>
<text x="49.70" y="512.2" font-family="Liberation Sans, sans-serif" font-size="16" text-anchor="middle">10</text>
<line x1="101.90" y1="495.1" x2="101.90" y2="491.5" stroke="#555" stroke-width="1.3"/>
<text x="101.90" y="512.2" font-family="Liberation Sans, sans-serif" font-size="16" text-anchor="middle">20</text>
<line x1="154.10" y1="495.1" x2="154.10" y2="491.5" stroke="#555" stroke-width="1.3"/>
<text x="154.10" y="512.2" font-family="Liberation Sans, sans-serif" font-size="16" text-anchor="middle">30</text>
<line x1="206.30" y1="495.1" x2="206.30" y2="491.5" stroke="#555" stroke-width="1.3"/>
<text x="206.30" y="512.2" font-family="Liberation Sans, sans-serif" font-size="16" text-anchor="middle">40</text>
<text x="127" y="531.5" font-family="Liberation Sans, sans-serif" font-size="18.8" text-anchor="middle">concentration, %</text>
<text transform="translate(13.5,409.3) rotate(-90)" font-family="Liberation Sans, sans-serif" font-size="19.4" text-anchor="middle">counts (a.u.)</text>
<text x="65" y="348.4" font-family="Liberation Sans, sans-serif" font-size="11.2" fill="#6a5a9e">Mn binomial</text>
<text x="29" y="436" font-family="Liberation Sans, sans-serif" font-size="11.2" fill="#b9978d">Mn observation</text>
<g clip-path="url(#hmclip)"><g filter="url(#hmf)"><rect x="224.94" y="298.34" width="11.63" height="11.43" fill="rgb(200,200,200)"/><rect x="235.97" y="298.34" width="11.63" height="11.43" fill="rgb(200,200,200)"/><rect x="247.00" y="298.34" width="11.63" height="11.43" fill="rgb(200,200,200)"/><rect x="258.03" y="298.34" width="11.63" height="11.43" fill="rgb(210,210,210)"/><rect x="269.06" y="298.34" width="11.63" height="11.43" fill="rgb(189,189,189)"/><rect x="280.09" y="298.34" width="11.63" height="11.43" fill="rgb(210,210,210)"/><rect x="291.12" y="298.34" width="11.63" height="11.43" fill="rgb(222,222,222)"/><rect x="302.16" y="298.34" width="11.63" height="11.43" fill="rgb(222,222,222)"/><rect x="313.19" y="298.34" width="11.63" height="11.43" fill="rgb(189,189,189)"/><rect x="324.22" y="298.34" width="11.63" height="11.43" fill="rgb(200,200,200)"/><rect x="335.25" y="298.34" width="11.63" height="11.43" fill="rgb(200,200,200)"/><rect x="346.28" y="298.34" width="11.63" height="11.43" fill="rgb(231,231,231)"/><rect x="357.31" y="298.34" width="11.63" height="11.43" fill="rgb(189,189,189)"/><rect x="368.34" y="298.34" width="11.63" height="11.43" fill="rgb(189,189,189)"/><rect x="379.38" y="298.34" width="11.63" height="11.43" fill="rgb(210,210,210)"/><rect x="390.41" y="298.34" width="11.63" height="11.43" fill="rgb(200,200,200)"/><rect x="401.44" y="298.34" width="11.63" height="11.43" fill="rgb(210,210,210)"/><rect x="412.47" y="298.34" width="11.63" height="11.43" fill="rgb(189,189,189)"/><rect x="423.50" y="298.34" width="11.63" height="11.43" fill="rgb(189,189,189)"/><rect x="434.53" y="298.34" width="11.63" height="11.43" fill="rgb(189,189,189)"/><rect x="224.94" y="309.17" width="11.63" height="11.43" fill="rgb(200,200,200)"/><rect x="235.97" y="309.17" width="11.63" height="11.43" fill="rgb(200,200,200)"/><rect x="247.00" y="309.17" width="11.63" height="11.43" fill="rgb(200,200,200)"/><rect x="258.03" y="309.17" width="11.63" height="11.43" fill="rgb(210,210,210)"/><rect x="269.06" y="309.17" width="11.63" height="11.43" fill="rgb(189,189,189)"/><rect x="280.09" y="309.17" width="11.63" height="11.43" fill="rgb(210,210,210)"/><rect x="291.12" y="309.17" width="11.63" height="11.43" fill="rgb(222,222,222)"/><rect x="302.16" y="309.17" width="11.63" height="11.43" fill="rgb(222,222,222)"/><rect x="313.19" y="309.17" width="11.63" height="11.43" fill="rgb(189,189,189)"/><rect x="324.22" y="309.17" width="11.63" height="11.43" fill="rgb(200,200,200)"/><rect x="335.25" y="309.17" width="11.63" height="11.43" fill="rgb(200,200,200)"/><rect x="346.28" y="309.17" width="11.63" height="11.43" fill="rgb(231,231,231)"/><rect x="357.31" y="309.17" width="11.63" height="11.43" fill="rgb(189,189,189)"/><rect x="368.34" y="309.17" width="11.63" height="11.43" fill="rgb(189,189,189)"/><rect x="379.38" y="309.17" width="11.63" height="11.43" fill="rgb(210,210,210)"/><rect x="390.41" y="309.17" width="11.63" height="11.43" fill="rgb(200,200,200)"/><rect x="401.44" y="309.17" width="11.63" height="11.43" fill="rgb(210,210,210)"/><rect x="412.47" y="309.17" width="11.63" height="11.43" fill="rgb(189,189,189)"/><rect x="423.50" y="309.17" width="11.63" height="11.43" fill="rgb(189,189,189)"/><rect x="434.53" y="309.17" width="11.63" height="11.43" fill="rgb(189,189,189)"/><rect x="224.94" y="320.00" width="11.63" height="11.43" fill="rgb(200,200,200)"/><rect x="235.97" y="320.00" width="11.63" height="11.43" fill="rgb(200,200,200)"/><rect x="247.00" y="320.00" width="11.63" height="11.43" fill="rgb(200,200,200)"/><rect x="258.03" y="320.00" width="11.63" height="11.43" fill="rgb(210,210,210)"/><rect x="269.06" y="320.00" width="11.63" height="11.43" fill="rgb(189,189,189)"/><rect x="280.09" y="320.00" width="11.63" height="11.43" fill="rgb(210,210,210)"/><rect x="291.12" y="320.00" width="11.63" height="11.43" fill="rgb(222,222,222)"/><rect x="302.16" y="320.00" width="11.63" height="11.43" fill="rgb(222,222,222)"/><rect x="313.19" y="320.00" width="11.63" height="11.43" fill="rgb(189,189,189)"/><rect x="324.22" y="320.00" width="11.63" height="11.43" fill="rgb(200,200,200)"/><rect x="335.25" y="320.00" width="11.63" height="11.43" fill="rgb(200,200,200)"/><rect x="346.28" y="320.00" width="11.63" height="11.43" fill="rgb(231,231,231)"/><rect x="357.31" y="320.00" width="11.63" height="11.43" fill="rgb(189,189,189)"/><rect x="368.34" y="320.00" width="11.63" height="11.43" fill="rgb(189,189,189)"/><rect x="379.38" y="320.00" width="11.63" height="11.43" fill="rgb(210,210,210)"/><rect x="390.41" y="320.00" width="11.63" height="11.43" fill="rgb(200,200,200)"/><rect x="401.44" y="320.00" width="11.63" height="11.43" fill="rgb(210,210,210)"/><rect x="412.47" y="320.00" width="11.63" height="11.43" fill="rgb(189,189,189)"/><rect x="423.50" y="320.00" width="11.63" height="11.43" fill="rgb(189,189,189)"/><rect x="434.53" y="320.00" width="11.63" height="11.43" fill="rgb(189,189,189)"/><rect x="224.94" y="330.83" width="11.63" height="11.43" fill="rgb(189,189,189)"/><rect x="235.97" y="330.83" width="11.63" height="11.43" fill="rgb(189,189,189)"/><rect x="247.00" y="330.83" width="11.63" height="11.43" fill="rgb(189,189,189)"/><rect x="258.03" y="330.83" width="11.63" height="11.43" fill="rgb(189,189,189)"/><rect x="269.06" y="330.83" width="11.63" height="11.43" fill="rgb(177,177,177)"/><rect x="280.09" y="330.83" width="11.63" height="11.43" fill="rgb(200,200,200)"/><rect x="291.12" y="330.83" width="11.63" height="11.43" fill="rgb(222,222,222)"/><rect x="302.16" y="330.83" width="11.63" height="11.43" fill="rgb(210,210,210)"/><rect x="313.19" y="330.83" width="11.63" height="11.43" fill="rgb(189,189,189)"/><rect x="324.22" y="330.83" width="11.63" height="11.43" fill="rgb(210,210,210)"/><rect x="335.25" y="330.83" width="11.63" height="11.43" fill="rgb(189,189,189)"/><rect x="346.28" y="330.83" width="11.63" height="11.43" fill="rgb(222,222,222)"/><rect x="357.31" y="330.83" width="11.63" height="11.43" fill="rgb(210,210,210)"/><rect x="368.34" y="330.83" width="11.63" height="11.43" fill="rgb(210,210,210)"/><rect x="379.38" y="330.83" width="11.63" height="11.43" fill="rgb(177,177,177)"/><rect x="390.41" y="330.83" width="11.63" height="11.43" fill="rgb(210,210,210)"/><rect x="401.44" y="330.83" width="11.63" height="11.43" fill="rgb(222,222,222)"/><rect x="412.47" y="330.83" width="11.63" height="11.43" fill="rgb(177,177,177)"/><rect x="423.50" y="330.83" width="11.63" height="11.43" fill="rgb(177,177,177)"/><rect x="434.53" y="330.83" width="11.63" height="11.43" fill="rgb(177,177,177)"/><rect x="224.94" y="341.66" width="11.63" height="11.43" fill="rgb(200,200,200)"/><rect x="235.97" y="341.66" width="11.63" height="11.43" fill="rgb(200,200,200)"/><rect x="247.00" y="341.66" width="11.63" height="11.43" fill="rgb(200,200,200)"/><rect x="258.03" y="341.66" width="11.63" height="11.43" fill="rgb(189,189,189)"/><rect x="269.06" y="341.66" width="11.63" height="11.43" fill="rgb(189,189,189)"/><rect x="280.09" y="341.66" width="11.63" height="11.43" fill="rgb(210,210,210)"/><rect x="291.12" y="341.66" width="11.63" height="11.43" fill="rgb(222,222,222)"/><rect x="302.16" y="341.66" width="11.63" height="11.43" fill="rgb(210,210,210)"/><rect x="313.19" y="341.66" width="11.63" height="11.43" fill="rgb(189,189,189)"/><rect x="324.22" y="341.66" width="11.63" height="11.43" fill="rgb(189,189,189)"/><rect x="335.25" y="341.66" width="11.63" height="11.43" fill="rgb(177,177,177)"/><rect x="346.28" y="341.66" width="11.63" height="11.43" fill="rgb(210,210,210)"/><rect x="357.31" y="341.66" width="11.63" height="11.43" fill="rgb(210,210,210)"/><rect x="368.34" y="341.66" width="11.63" height="11.43" fill="rgb(210,210,210)"/><rect x="379.38" y="341.66" width="11.63" height="11.43" fill="rgb(177,177,177)"/><rect x="390.41" y="341.66" width="11.63" height="11.43" fill="rgb(210,210,210)"/><rect x="401.44" y="341.66" width="11.63" height="11.43" fill="rgb(222,222,222)"/><rect x="412.47" y="341.66" width="11.63" height="11.43" fill="rgb(189,189,189)"/><rect x="423.50" y="341.66" width="11.63" height="11.43" fill="rgb(189,189,189)"/><rect x="434.53" y="341.66" width="11.63" height="11.43" fill="rgb(189,189,189)"/><rect x="224.94" y="352.49" width="11.63" height="11.43" fill="rgb(210,210,210)"/><rect x="235.97" y="352.49" width="11.63" height="11.43" fill="rgb(210,210,210)"/><rect x="247.00" y="352.49" width="11.63" height="11.43" fill="rgb(210,210,210)"/><rect x="258.03" y="352.49" width="11.63" height="11.43" fill="rgb(189,189,189)"/><rect x="269.06" y="352.49" width="11.63" height="11.43" fill="rgb(200,200,200)"/><rect x="280.09" y="352.49" width="11.63" height="11.43" fill="rgb(210,210,210)"/><rect x="291.12" y="352.49" width="11.63" height="11.43" fill="rgb(200,200,200)"/><rect x="302.16" y="352.49" width="11.63" height="11.43" fill="rgb(177,177,177)"/><rect x="313.19" y="352.49" width="11.63" height="11.43" fill="rgb(177,177,177)"/><rect x="324.22" y="352.49" width="11.63" height="11.43" fill="rgb(210,210,210)"/><rect x="335.25" y="352.49" width="11.63" height="11.43" fill="rgb(189,189,189)"/><rect x="346.28" y="352.49" width="11.63" height="11.43" fill="rgb(200,200,200)"/><rect x="357.31" y="352.49" width="11.63" height="11.43" fill="rgb(210,210,210)"/><rect x="368.34" y="352.49" width="11.63" height="11.43" fill="rgb(210,210,210)"/><rect x="379.38" y="352.49" width="11.63" height="11.43" fill="rgb(189,189,189)"/><rect x="390.41" y="352.49" width="11.63" height="11.43" fill="rgb(210,210,210)"/><rect x="401.44" y="352.49" width="11.63" height="11.43" fill="rgb(231,231,231)"/><rect x="412.47" y="352.49" width="11.63" height="11.43" fill="rgb(189,189,189)"/><rect x="423.50" y="352.49" width="11.63" height="11.43" fill="rgb(189,189,189)"/><rect x="434.53" y="352.49" width="11.63" height="11.43" fill="rgb(189,189,189)"/><rect x="224.94" y="363.32" width="11.63" height="11.43" fill="rgb(222,222,222)"/><rect x="235.97" y="363.32" width="11.63" height="11.43" fill="rgb(222,222,222)"/><rect x="247.00" y="363.32" width="11.63" height="11.43" fill="rgb(222,222,222)"/><rect x="258.03" y="363.32" width="11.63" height="11.43" fill="rgb(189,189,189)"/><rect x="269.06" y="363.32" width="11.63" height="11.43" fill="rgb(222,222,222)"/><rect x="280.09" y="363.32" width="11.63" height="11.43" fill="rgb(177,177,177)"/><rect x="291.12" y="363.32" width="11.63" height="11.43" fill="rgb(177,177,177)"/><rect x="302.16" y="363.32" width="11.63" height="11.43" fill="rgb(177,177,177)"/><rect x="313.19" y="363.32" width="11.63" height="11.43" fill="rgb(189,189,189)"/><rect x="324.22" y="363.32" width="11.63" height="11.43" fill="rgb(222,222,222)"/><rect x="335.25" y="363.32" width="11.63" height="11.43" fill="rgb(164,164,164)"/><rect x="346.28" y="363.32" width="11.63" height="11.43" fill="rgb(189,189,189)"/><rect x="357.31" y="363.32" width="11.63" height="11.43" fill="rgb(210,210,210)"/><rect x="368.34" y="363.32" width="11.63" height="11.43" fill="rgb(189,189,189)"/><rect x="379.38" y="363.32" width="11.63" height="11.43" fill="rgb(200,200,200)"/><rect x="390.41" y="363.32" width="11.63" height="11.43" fill="rgb(222,222,222)"/><rect x="401.44" y="363.32" width="11.63" height="11.43" fill="rgb(231,231,231)"/><rect x="412.47" y="363.32" width="11.63" height="11.43" fill="rgb(200,200,200)"/><rect x="423.50" y="363.32" width="11.63" height="11.43" fill="rgb(200,200,200)"/><rect x="434.53" y="363.32" width="11.63" height="11.43" fill="rgb(200,200,200)"/><rect x="224.94" y="374.16" width="11.63" height="11.43" fill="rgb(200,200,200)"/><rect x="235.97" y="374.16" width="11.63" height="11.43" fill="rgb(200,200,200)"/><rect x="247.00" y="374.16" width="11.63" height="11.43" fill="rgb(200,200,200)"/><rect x="258.03" y="374.16" width="11.63" height="11.43" fill="rgb(189,189,189)"/><rect x="269.06" y="374.16" width="11.63" height="11.43" fill="rgb(210,210,210)"/><rect x="280.09" y="374.16" width="11.63" height="11.43" fill="rgb(189,189,189)"/><rect x="291.12" y="374.16" width="11.63" height="11.43" fill="rgb(177,177,177)"/><rect x="302.16" y="374.16" width="11.63" height="11.43" fill="rgb(189,189,189)"/><rect x="313.19" y="374.16" width="11.63" height="11.43" fill="rgb(210,210,210)"/><rect x="324.22" y="374.16" width="11.63" height="11.43" fill="rgb(222,222,222)"/><rect x="335.25" y="374.16" width="11.63" height="11.43" fill="rgb(189,189,189)"/><rect x="346.28" y="374.16" width="11.63" height="11.43" fill="rgb(200,200,200)"/><rect x="357.31" y="374.16" width="11.63" height="11.43" fill="rgb(189,189,189)"/><rect x="368.34" y="374.16" width="11.63" height="11.43" fill="rgb(164,164,164)"/><rect x="379.38" y="374.16" width="11.63" height="11.43" fill="rgb(200,200,200)"/><rect x="390.41" y="374.16" width="11.63" height="11.43" fill="rgb(210,210,210)"/><rect x="401.44" y="374.16" width="11.63" height="11.43" fill="rgb(189,189,189)"/><rect x="412.47" y="374.16" width="11.63" height="11.43" fill="rgb(189,189,189)"/><rect x="423.50" y="374.16" width="11.63" height="11.43" fill="rgb(189,189,189)"/><rect x="434.53" y="374.16" width="11.63" height="11.43" fill="rgb(189,189,189)"/><rect x="224.94" y="384.99" width="11.63" height="11.43" fill="rgb(222,222,222)"/><rect x="235.97" y="384.99" width="11.63" height="11.43" fill="rgb(222,222,222)"/><rect x="247.00" y="384.99" width="11.63" height="11.43" fill="rgb(222,222,222)"/><rect x="258.03" y="384.99" width="11.63" height="11.43" fill="rgb(200,200,200)"/><rect x="269.06" y="384.99" width="11.63" height="11.43" fill="rgb(189,189,189)"/><rect x="280.09" y="384.99" width="11.63" height="11.43" fill="rgb(200,200,200)"/><rect x="291.12" y="384.99" width="11.63" height="11.43" fill="rgb(189,189,189)"/><rect x="302.16" y="384.99" width="11.63" height="11.43" fill="rgb(164,164,164)"/><rect x="313.19" y="384.99" width="11.63" height="11.43" fill="rgb(200,200,200)"/><rect x="324.22" y="384.99" width="11.63" height="11.43" fill="rgb(200,200,200)"/><rect x="335.25" y="384.99" width="11.63" height="11.43" fill="rgb(189,189,189)"/><rect x="346.28" y="384.99" width="11.63" height="11.43" fill="rgb(177,177,177)"/><rect x="357.31" y="384.99" width="11.63" height="11.43" fill="rgb(189,189,189)"/><rect x="368.34" y="384.99" width="11.63" height="11.43" fill="rgb(189,189,189)"/><rect x="379.38" y="384.99" width="11.63" height="11.43" fill="rgb(200,200,200)"/><rect x="390.41" y="384.99" width="11.63" height="11.43" fill="rgb(189,189,189)"/><rect x="401.44" y="384.99" width="11.63" height="11.43" fill="rgb(177,177,177)"/><rect x="412.47" y="384.99" width="11.63" height="11.43" fill="rgb(177,177,177)"/><rect x="423.50" y="384.99" width="11.63" height="11.43" fill="rgb(177,177,177)"/><rect x="434.53" y="384.99" width="11.63" height="11.43" fill="rgb(177,177,177)"/><rect x="224.94" y="395.82" width="11.63" height="11.43" fill="rgb(210,210,210)"/><rect x="235.97" y="395.82" width="11.63" height="11.43" fill="rgb(210,210,210)"/><rect x="247.00" y="395.82" width="11.63" height="11.43" fill="rgb(210,210,210)"/><rect x="258.03" y="395.82" width="11.63" height="11.43" fill="rgb(164,164,164)"/><rect x="269.06" y="395.82" width="11.63" height="11.43" fill="rgb(164,164,164)"/><rect x="280.09" y="395.82" width="11.63" height="11.43" fill="rgb(200,200,200)"/><rect x="291.12" y="395.82" width="11.63" height="11.43" fill="rgb(189,189,189)"/><rect x="302.16" y="395.82" width="11.63" height="11.43" fill="rgb(177,177,177)"/><rect x="313.19" y="395.82" width="11.63" height="11.43" fill="rgb(222,222,222)"/><rect x="324.22" y="395.82" width="11.63" height="11.43" fill="rgb(200,200,200)"/><rect x="335.25" y="395.82" width="11.63" height="11.43" fill="rgb(177,177,177)"/><rect x="346.28" y="395.82" width="11.63" height="11.43" fill="rgb(189,189,189)"/><rect x="357.31" y="395.82" width="11.63" height="11.43" fill="rgb(200,200,200)"/><rect x="368.34" y="395.82" width="11.63" height="11.43" fill="rgb(210,210,210)"/><rect x="379.38" y="395.82" width="11.63" height="11.43" fill="rgb(200,200,200)"/><rect x="390.41" y="395.82" width="11.63" height="11.43" fill="rgb(200,200,200)"/><rect x="401.44" y="395.82" width="11.63" height="11.43" fill="rgb(189,189,189)"/><rect x="412.47" y="395.82" width="11.63" height="11.43" fill="rgb(177,177,177)"/><rect x="423.50" y="395.82" width="11.63" height="11.43" fill="rgb(177,177,177)"/><rect x="434.53" y="395.82" width="11.63" height="11.43" fill="rgb(177,177,177)"/><rect x="224.94" y="406.65" width="11.63" height="11.43" fill="rgb(200,200,200)"/><rect x="235.97" y="406.65" width="11.63" height="11.43" fill="rgb(200,200,200)"/><rect x="247.00" y="406.65" width="11.63" height="11.43" fill="rgb(200,200,200)"/><rect x="258.03" y="406.65" width="11.63" height="11.43" fill="rgb(210,210,210)"/><rect x="269.06" y="406.65" width="11.63" height="11.43" fill="rgb(177,177,177)"/><rect x="280.09" y="406.65" width="11.63" height="11.43" fill="rgb(200,200,200)"/><rect x="291.12" y="406.65" width="11.63" height="11.43" fill="rgb(210,210,210)"/><rect x="302.16" y="406.65" width="11.63" height="11.43" fill="rgb(210,210,210)"/><rect x="313.19" y="406.65" width="11.63" height="11.43" fill="rgb(200,200,200)"/><rect x="324.22" y="406.65" width="11.63" height="11.43" fill="rgb(189,189,189)"/><rect x="335.25" y="406.65" width="11.63" height="11.43" fill="rgb(177,177,177)"/><rect x="346.28" y="406.65" width="11.63" height="11.43" fill="rgb(189,189,189)"/><rect x="357.31" y="406.65" width="11.63" height="11.43" fill="rgb(210,210,210)"/><rect x="368.34" y="406.65" width="11.63" height="11.43" fill="rgb(222,222,222)"/><rect x="379.38" y="406.65" width="11.63" height="11.43" fill="rgb(200,200,200)"/><rect x="390.41" y="406.65" width="11.63" height="11.43" fill="rgb(189,189,189)"/><rect x="401.44" y="406.65" width="11.63" height="11.43" fill="rgb(177,177,177)"/><rect x="412.47" y="406.65" width="11.63" height="11.43" fill="rgb(177,177,177)"/><rect x="423.50" y="406.65" width="11.63" height="11.43" fill="rgb(177,177,177)"/><rect x="434.53" y="406.65" width="11.63" height="11.43" fill="rgb(177,177,177)"/><rect x="224.94" y="417.48" width="11.63" height="11.43" fill="rgb(222,222,222)"/><rect x="235.97" y="417.48" width="11.63" height="11.43" fill="rgb(222,222,222)"/><rect x="247.00" y="417.48" width="11.63" height="11.43" fill="rgb(222,222,222)"/><rect x="258.03" y="417.48" width="11.63" height="11.43" fill="rgb(210,210,210)"/><rect x="269.06" y="417.48" width="11.63" height="11.43" fill="rgb(189,189,189)"/><rect x="280.09" y="417.48" width="11.63" height="11.43" fill="rgb(177,177,177)"/><rect x="291.12" y="417.48" width="11.63" height="11.43" fill="rgb(200,200,200)"/><rect x="302.16" y="417.48" width="11.63" height="11.43" fill="rgb(210,210,210)"/><rect x="313.19" y="417.48" width="11.63" height="11.43" fill="rgb(222,222,222)"/><rect x="324.22" y="417.48" width="11.63" height="11.43" fill="rgb(200,200,200)"/><rect x="335.25" y="417.48" width="11.63" height="11.43" fill="rgb(177,177,177)"/><rect x="346.28" y="417.48" width="11.63" height="11.43" fill="rgb(200,200,200)"/><rect x="357.31" y="417.48" width="11.63" height="11.43" fill="rgb(222,222,222)"/><rect x="368.34" y="417.48" width="11.63" height="11.43" fill="rgb(210,210,210)"/><rect x="379.38" y="417.48" width="11.63" height="11.43" fill="rgb(189,189,189)"/><rect x="390.41" y="417.48" width="11.63" height="11.43" fill="rgb(177,177,177)"/><rect x="401.44" y="417.48" width="11.63" height="11.43" fill="rgb(189,189,189)"/><rect x="412.47" y="417.48" width="11.63" height="11.43" fill="rgb(189,189,189)"/><rect x="423.50" y="417.48" width="11.63" height="11.43" fill="rgb(189,189,189)"/><rect x="434.53" y="417.48" width="11.63" height="11.43" fill="rgb(189,189,189)"/><rect x="224.94" y="428.31" width="11.63" height="11.43" fill="rgb(210,210,210)"/><rect x="235.97" y="428.31" width="11.63" height="11.43" fill="rgb(210,210,210)"/><rect x="247.00" y="428.31" width="11.63" height="11.43" fill="rgb(210,210,210)"/><rect x="258.03" y="428.31" width="11.63" height="11.43" fill="rgb(189,189,189)"/><rect x="269.06" y="428.31" width="11.63" height="11.43" fill="rgb(164,164,164)"/><rect x="280.09" y="428.31" width="11.63" height="11.43" fill="rgb(177,177,177)"/><rect x="291.12" y="428.31" width="11.63" height="11.43" fill="rgb(200,200,200)"/><rect x="302.16" y="428.31" width="11.63" height="11.43" fill="rgb(200,200,200)"/><rect x="313.19" y="428.31" width="11.63" height="11.43" fill="rgb(200,200,200)"/><rect x="324.22" y="428.31" width="11.63" height="11.43" fill="rgb(189,189,189)"/><rect x="335.25" y="428.31" width="11.63" height="11.43" fill="rgb(189,189,189)"/><rect x="346.28" y="428.31" width="11.63" height="11.43" fill="rgb(210,210,210)"/><rect x="357.31" y="428.31" width="11.63" height="11.43" fill="rgb(200,200,200)"/><rect x="368.34" y="428.31" width="11.63" height="11.43" fill="rgb(189,189,189)"/><rect x="379.38" y="428.31" width="11.63" height="11.43" fill="rgb(200,200,200)"/><rect x="390.41" y="428.31" width="11.63" height="11.43" fill="rgb(189,189,189)"/><rect x="401.44" y="428.31" width="11.63" height="11.43" fill="rgb(200,200,200)"/><rect x="412.47" y="428.31" width="11.63" height="11.43" fill="rgb(189,189,189)"/><rect x="423.50" y="428.31" width="11.63" height="11.43" fill="rgb(189,189,189)"/><rect x="434.53" y="428.31" width="11.63" height="11.43" fill="rgb(189,189,189)"/><rect x="224.94" y="439.14" width="11.63" height="11.43" fill="rgb(189,189,189)"/><rect x="235.97" y="439.14" width="11.63" height="11.43" fill="rgb(189,189,189)"/><rect x="247.00" y="439.14" width="11.63" height="11.43" fill="rgb(189,189,189)"/><rect x="258.03" y="439.14" width="11.63" height="11.43" fill="rgb(200,200,200)"/><rect x="269.06" y="439.14" width="11.63" height="11.43" fill="rgb(200,200,200)"/><rect x="280.09" y="439.14" width="11.63" height="11.43" fill="rgb(189,189,189)"/><rect x="291.12" y="439.14" width="11.63" height="11.43" fill="rgb(177,177,177)"/><rect x="302.16" y="439.14" width="11.63" height="11.43" fill="rgb(189,189,189)"/><rect x="313.19" y="439.14" width="11.63" height="11.43" fill="rgb(200,200,200)"/><rect x="324.22" y="439.14" width="11.63" height="11.43" fill="rgb(200,200,200)"/><rect x="335.25" y="439.14" width="11.63" height="11.43" fill="rgb(200,200,200)"/><rect x="346.28" y="439.14" width="11.63" height="11.43" fill="rgb(200,200,200)"/><rect x="357.31" y="439.14" width="11.63" height="11.43" fill="rgb(189,189,189)"/><rect x="368.34" y="439.14" width="11.63" height="11.43" fill="rgb(200,200,200)"/><rect x="379.38" y="439.14" width="11.63" height="11.43" fill="rgb(200,200,200)"/><rect x="390.41" y="439.14" width="11.63" height="11.43" fill="rgb(189,189,189)"/><rect x="401.44" y="439.14" width="11.63" height="11.43" fill="rgb(189,189,189)"/><rect x="412.47" y="439.14" width="11.63" height="11.43" fill="rgb(177,177,177)"/><rect x="423.50" y="439.14" width="11.63" height="11.43" fill="rgb(177,177,177)"/><rect x="434.53" y="439.14" width="11.63" height="11.43" fill="rgb(177,177,177)"/><rect x="224.94" y="449.98" width="11.63" height="11.43" fill="rgb(189,189,189)"/><rect x="235.97" y="449.98" width="11.63" height="11.43" fill="rgb(189,189,189)"/><rect x="247.00" y="449.98" width="11.63" height="11.43" fill="rgb(189,189,189)"/><rect x="258.03" y="449.98" width="11.63" height="11.43" fill="rgb(210,210,210)"/><rect x="269.06" y="449.98" width="11.63" height="11.43" fill="rgb(210,210,210)"/><rect x="280.09" y="449.98" width="11.63" height="11.43" fill="rgb(210,210,210)"/><rect x="291.12" y="449.98" width="11.63" height="11.43" fill="rgb(177,177,177)"/><rect x="302.16" y="449.98" width="11.63" height="11.43" fill="rgb(189,189,189)"/><rect x="313.19" y="449.98" width="11.63" height="11.43" fill="rgb(200,200,200)"/><rect x="324.22" y="449.98" width="11.63" height="11.43" fill="rgb(210,210,210)"/><rect x="335.25" y="449.98" width="11.63" height="11.43" fill="rgb(200,200,200)"/><rect x="346.28" y="449.98" width="11.63" height="11.43" fill="rgb(177,177,177)"/><rect x="357.31" y="449.98" width="11.63" height="11.43" fill="rgb(177,177,177)"/><rect x="368.34" y="449.98" width="11.63" height="11.43" fill="rgb(189,189,189)"/><rect x="379.38" y="449.98" width="11.63" height="11.43" fill="rgb(189,189,189)"/><rect x="390.41" y="449.98" width="11.63" height="11.43" fill="rgb(200,200,200)"/><rect x="401.44" y="449.98" width="11.63" height="11.43" fill="rgb(189,189,189)"/><rect x="412.47" y="449.98" width="11.63" height="11.43" fill="rgb(189,189,189)"/><rect x="423.50" y="449.98" width="11.63" height="11.43" fill="rgb(189,189,189)"/><rect x="434.53" y="449.98" width="11.63" height="11.43" fill="rgb(189,189,189)"/><rect x="224.94" y="460.81" width="11.63" height="11.43" fill="rgb(200,200,200)"/><rect x="235.97" y="460.81" width="11.63" height="11.43" fill="rgb(200,200,200)"/><rect x="247.00" y="460.81" width="11.63" height="11.43" fill="rgb(200,200,200)"/><rect x="258.03" y="460.81" width="11.63" height="11.43" fill="rgb(210,210,210)"/><rect x="269.06" y="460.81" width="11.63" height="11.43" fill="rgb(210,210,210)"/><rect x="280.09" y="460.81" width="11.63" height="11.43" fill="rgb(210,210,210)"/><rect x="291.12" y="460.81" width="11.63" height="11.43" fill="rgb(164,164,164)"/><rect x="302.16" y="460.81" width="11.63" height="11.43" fill="rgb(189,189,189)"/><rect x="313.19" y="460.81" width="11.63" height="11.43" fill="rgb(189,189,189)"/><rect x="324.22" y="460.81" width="11.63" height="11.43" fill="rgb(189,189,189)"/><rect x="335.25" y="460.81" width="11.63" height="11.43" fill="rgb(189,189,189)"/><rect x="346.28" y="460.81" width="11.63" height="11.43" fill="rgb(189,189,189)"/><rect x="357.31" y="460.81" width="11.63" height="11.43" fill="rgb(177,177,177)"/><rect x="368.34" y="460.81" width="11.63" height="11.43" fill="rgb(189,189,189)"/><rect x="379.38" y="460.81" width="11.63" height="11.43" fill="rgb(200,200,200)"/><rect x="390.41" y="460.81" width="11.63" height="11.43" fill="rgb(200,200,200)"/><rect x="401.44" y="460.81" width="11.63" height="11.43" fill="rgb(189,189,189)"/><rect x="412.47" y="460.81" width="11.63" height="11.43" fill="rgb(200,200,200)"/><rect x="423.50" y="460.81" width="11.63" height="11.43" fill="rgb(200,200,200)"/><rect x="434.53" y="460.81" width="11.63" height="11.43" fill="rgb(200,200,200)"/><rect x="224.94" y="471.64" width="11.63" height="11.43" fill="rgb(210,210,210)"/><rect x="235.97" y="471.64" width="11.63" height="11.43" fill="rgb(210,210,210)"/><rect x="247.00" y="471.64" width="11.63" height="11.43" fill="rgb(210,210,210)"/><rect x="258.03" y="471.64" width="11.63" height="11.43" fill="rgb(222,222,222)"/><rect x="269.06" y="471.64" width="11.63" height="11.43" fill="rgb(210,210,210)"/><rect x="280.09" y="471.64" width="11.63" height="11.43" fill="rgb(200,200,200)"/><rect x="291.12" y="471.64" width="11.63" height="11.43" fill="rgb(177,177,177)"/><rect x="302.16" y="471.64" width="11.63" height="11.43" fill="rgb(189,189,189)"/><rect x="313.19" y="471.64" width="11.63" height="11.43" fill="rgb(200,200,200)"/><rect x="324.22" y="471.64" width="11.63" height="11.43" fill="rgb(177,177,177)"/><rect x="335.25" y="471.64" width="11.63" height="11.43" fill="rgb(164,164,164)"/><rect x="346.28" y="471.64" width="11.63" height="11.43" fill="rgb(189,189,189)"/><rect x="357.31" y="471.64" width="11.63" height="11.43" fill="rgb(200,200,200)"/><rect x="368.34" y="471.64" width="11.63" height="11.43" fill="rgb(200,200,200)"/><rect x="379.38" y="471.64" width="11.63" height="11.43" fill="rgb(200,200,200)"/><rect x="390.41" y="471.64" width="11.63" height="11.43" fill="rgb(200,200,200)"/><rect x="401.44" y="471.64" width="11.63" height="11.43" fill="rgb(189,189,189)"/><rect x="412.47" y="471.64" width="11.63" height="11.43" fill="rgb(200,200,200)"/><rect x="423.50" y="471.64" width="11.63" height="11.43" fill="rgb(200,200,200)"/><rect x="434.53" y="471.64" width="11.63" height="11.43" fill="rgb(200,200,200)"/><rect x="224.94" y="482.47" width="11.63" height="11.43" fill="rgb(200,200,200)"/><rect x="235.97" y="482.47" width="11.63" height="11.43" fill="rgb(200,200,200)"/><rect x="247.00" y="482.47" width="11.63" height="11.43" fill="rgb(200,200,200)"/><rect x="258.03" y="482.47" width="11.63" height="11.43" fill="rgb(210,210,210)"/><rect x="269.06" y="482.47" width="11.63" height="11.43" fill="rgb(200,200,200)"/><rect x="280.09" y="482.47" width="11.63" height="11.43" fill="rgb(200,200,200)"/><rect x="291.12" y="482.47" width="11.63" height="11.43" fill="rgb(189,189,189)"/><rect x="302.16" y="482.47" width="11.63" height="11.43" fill="rgb(189,189,189)"/><rect x="313.19" y="482.47" width="11.63" height="11.43" fill="rgb(200,200,200)"/><rect x="324.22" y="482.47" width="11.63" height="11.43" fill="rgb(200,200,200)"/><rect x="335.25" y="482.47" width="11.63" height="11.43" fill="rgb(200,200,200)"/><rect x="346.28" y="482.47" width="11.63" height="11.43" fill="rgb(200,200,200)"/><rect x="357.31" y="482.47" width="11.63" height="11.43" fill="rgb(189,189,189)"/><rect x="368.34" y="482.47" width="11.63" height="11.43" fill="rgb(210,210,210)"/><rect x="379.38" y="482.47" width="11.63" height="11.43" fill="rgb(210,210,210)"/><rect x="390.41" y="482.47" width="11.63" height="11.43" fill="rgb(200,200,200)"/><rect x="401.44" y="482.47" width="11.63" height="11.43" fill="rgb(189,189,189)"/><rect x="412.47" y="482.47" width="11.63" height="11.43" fill="rgb(200,200,200)"/><rect x="423.50" y="482.47" width="11.63" height="11.43" fill="rgb(200,200,200)"/><rect x="434.53" y="482.47" width="11.63" height="11.43" fill="rgb(200,200,200)"/><rect x="224.94" y="493.30" width="11.63" height="11.43" fill="rgb(200,200,200)"/><rect x="235.97" y="493.30" width="11.63" height="11.43" fill="rgb(200,200,200)"/><rect x="247.00" y="493.30" width="11.63" height="11.43" fill="rgb(200,200,200)"/><rect x="258.03" y="493.30" width="11.63" height="11.43" fill="rgb(210,210,210)"/><rect x="269.06" y="493.30" width="11.63" height="11.43" fill="rgb(200,200,200)"/><rect x="280.09" y="493.30" width="11.63" height="11.43" fill="rgb(200,200,200)"/><rect x="291.12" y="493.30" width="11.63" height="11.43" fill="rgb(189,189,189)"/><rect x="302.16" y="493.30" width="11.63" height="11.43" fill="rgb(189,189,189)"/><rect x="313.19" y="493.30" width="11.63" height="11.43" fill="rgb(200,200,200)"/><rect x="324.22" y="493.30" width="11.63" height="11.43" fill="rgb(200,200,200)"/><rect x="335.25" y="493.30" width="11.63" height="11.43" fill="rgb(200,200,200)"/><rect x="346.28" y="493.30" width="11.63" height="11.43" fill="rgb(200,200,200)"/><rect x="357.31" y="493.30" width="11.63" height="11.43" fill="rgb(189,189,189)"/><rect x="368.34" y="493.30" width="11.63" height="11.43" fill="rgb(210,210,210)"/><rect x="379.38" y="493.30" width="11.63" height="11.43" fill="rgb(210,210,210)"/><rect x="390.41" y="493.30" width="11.63" height="11.43" fill="rgb(200,200,200)"/><rect x="401.44" y="493.30" width="11.63" height="11.43" fill="rgb(189,189,189)"/><rect x="412.47" y="493.30" width="11.63" height="11.43" fill="rgb(200,200,200)"/><rect x="423.50" y="493.30" width="11.63" height="11.43" fill="rgb(200,200,200)"/><rect x="434.53" y="493.30" width="11.63" height="11.43" fill="rgb(200,200,200)"/><rect x="224.94" y="504.13" width="11.63" height="11.43" fill="rgb(200,200,200)"/><rect x="235.97" y="504.13" width="11.63" height="11.43" fill="rgb(200,200,200)"/><rect x="247.00" y="504.13" width="11.63" height="11.43" fill="rgb(200,200,200)"/><rect x="258.03" y="504.13" width="11.63" height="11.43" fill="rgb(210,210,210)"/><rect x="269.06" y="504.13" width="11.63" height="11.43" fill="rgb(200,200,200)"/><rect x="280.09" y="504.13" width="11.63" height="11.43" fill="rgb(200,200,200)"/><rect x="291.12" y="504.13" width="11.63" height="11.43" fill="rgb(189,189,189)"/><rect x="302.16" y="504.13" width="11.63" height="11.43" fill="rgb(189,189,189)"/><rect x="313.19" y="504.13" width="11.63" height="11.43" fill="rgb(200,200,200)"/><rect x="324.22" y="504.13" width="11.63" height="11.43" fill="rgb(200,200,200)"/><rect x="335.25" y="504.13" width="11.63" height="11.43" fill="rgb(200,200,200)"/><rect x="346.28" y="504.13" width="11.63" height="11.43" fill="rgb(200,200,200)"/><rect x="357.31" y="504.13" width="11.63" height="11.43" fill="rgb(189,189,189)"/><rect x="368.34" y="504.13" width="11.63" height="11.43" fill="rgb(210,210,210)"/><rect x="379.38" y="504.13" width="11.63" height="11.43" fill="rgb(210,210,210)"/><rect x="390.41" y="504.13" width="11.63" height="11.43" fill="rgb(200,200,200)"/><rect x="401.44" y="504.13" width="11.63" height="11.43" fill="rgb(189,189,189)"/><rect x="412.47" y="504.13" width="11.63" height="11.43" fill="rgb(200,200,200)"/><rect x="423.50" y="504.13" width="11.63" height="11.43" fill="rgb(200,200,200)"/><rect x="434.53" y="504.13" width="11.63" height="11.43" fill="rgb(200,200,200)"/><ellipse cx="257.7" cy="321" rx="3.60" ry="2.40" fill="rgb(209,209,209)"/><ellipse cx="263" cy="324.3" rx="3.60" ry="3.60" fill="rgb(217,217,217)"/><ellipse cx="257.2" cy="331.3" rx="3.60" ry="3.60" fill="rgb(217,217,217)"/><ellipse cx="269.5" cy="333.4" rx="4.80" ry="4.80" fill="rgb(163,163,163)"/><ellipse cx="291" cy="328.6" rx="4.80" ry="4.80" fill="rgb(217,217,217)"/><ellipse cx="299.5" cy="341.4" rx="7.20" ry="7.20" fill="rgb(219,219,219)"/><ellipse cx="296" cy="332" rx="6.00" ry="6.00" fill="rgb(214,214,214)"/><ellipse cx="261" cy="344.7" rx="3.60" ry="3.60" fill="rgb(163,163,163)"/><ellipse cx="268.4" cy="357.5" rx="3.60" ry="3.60" fill="rgb(135,135,135)"/><ellipse cx="250" cy="341" rx="3.60" ry="6.00" fill="rgb(199,199,199)"/><ellipse cx="249" cy="372.5" rx="4.80" ry="4.80" fill="rgb(217,217,217)"/><ellipse cx="281.3" cy="371.4" rx="4.80" ry="4.80" fill="rgb(217,217,217)"/><ellipse cx="269.5" cy="372.5" rx="3.60" ry="3.60" fill="rgb(163,163,163)"/><ellipse cx="300.6" cy="373.6" rx="4.80" ry="4.80" fill="rgb(163,163,163)"/><ellipse cx="280" cy="363.5" rx="4.80" ry="3.60" fill="rgb(199,199,199)"/><ellipse cx="275" cy="333" rx="7.20" ry="3.60" fill="rgb(168,168,168)"/><ellipse cx="316.7" cy="322.1" rx="4.20" ry="4.20" fill="rgb(217,217,217)"/><ellipse cx="310.3" cy="326.4" rx="3.60" ry="3.60" fill="rgb(204,204,204)"/><ellipse cx="325.3" cy="326.4" rx="4.80" ry="4.80" fill="rgb(171,171,171)"/><ellipse cx="336" cy="324.3" rx="4.80" ry="4.80" fill="rgb(171,171,171)"/><ellipse cx="352" cy="330.7" rx="7.20" ry="7.20" fill="rgb(222,222,222)"/><ellipse cx="348.9" cy="325.4" rx="4.80" ry="4.80" fill="rgb(217,217,217)"/><ellipse cx="330.6" cy="336" rx="3.60" ry="3.60" fill="rgb(209,209,209)"/><ellipse cx="316.7" cy="341.4" rx="6.00" ry="6.00" fill="rgb(168,168,168)"/><ellipse cx="338" cy="345" rx="3.60" ry="6.00" fill="rgb(163,163,163)"/><ellipse cx="351" cy="344.7" rx="3.60" ry="3.60" fill="rgb(209,209,209)"/><ellipse cx="350" cy="353" rx="3.60" ry="3.60" fill="rgb(212,212,212)"/><ellipse cx="357.4" cy="349" rx="3.60" ry="3.60" fill="rgb(171,171,171)"/><ellipse cx="361.7" cy="355.4" rx="3.60" ry="3.60" fill="rgb(212,212,212)"/><ellipse cx="309.2" cy="366" rx="4.80" ry="4.80" fill="rgb(156,156,156)"/><ellipse cx="314" cy="370" rx="8.40" ry="7.20" fill="rgb(163,163,163)"/><ellipse cx="343.5" cy="367.2" rx="3.60" ry="3.60" fill="rgb(133,133,133)"/><ellipse cx="329.6" cy="368.2" rx="4.80" ry="4.80" fill="rgb(217,217,217)"/><ellipse cx="359.6" cy="369.3" rx="3.60" ry="3.60" fill="rgb(204,204,204)"/><ellipse cx="346.7" cy="375.7" rx="4.80" ry="3.60" fill="rgb(163,163,163)"/><ellipse cx="386.4" cy="321" rx="3.60" ry="2.40" fill="rgb(214,214,214)"/><ellipse cx="403.6" cy="321" rx="4.80" ry="2.40" fill="rgb(214,214,214)"/><ellipse cx="367.1" cy="328.6" rx="4.80" ry="4.80" fill="rgb(163,163,163)"/><ellipse cx="383.2" cy="337.1" rx="4.80" ry="4.80" fill="rgb(135,135,135)"/><ellipse cx="384.3" cy="353.2" rx="6.00" ry="6.00" fill="rgb(163,163,163)"/><ellipse cx="399.3" cy="328.6" rx="4.80" ry="4.80" fill="rgb(166,166,166)"/><ellipse cx="405.7" cy="337.1" rx="4.80" ry="4.80" fill="rgb(219,219,219)"/><ellipse cx="399.3" cy="352.2" rx="4.80" ry="6.00" fill="rgb(214,214,214)"/><ellipse cx="400.4" cy="360.7" rx="4.80" ry="6.00" fill="rgb(219,219,219)"/><ellipse cx="404.7" cy="373.6" rx="4.80" ry="4.80" fill="rgb(227,227,227)"/><ellipse cx="390.7" cy="368.2" rx="3.60" ry="3.60" fill="rgb(214,214,214)"/><ellipse cx="398.2" cy="368.2" rx="2.40" ry="2.40" fill="rgb(204,204,204)"/><ellipse cx="369.3" cy="340.4" rx="3.60" ry="4.80" fill="rgb(204,204,204)"/><ellipse cx="373.6" cy="358.6" rx="3.60" ry="4.80" fill="rgb(214,214,214)"/><ellipse cx="416.4" cy="345.7" rx="6.00" ry="6.00" fill="rgb(163,163,163)"/><ellipse cx="421.8" cy="359.6" rx="3.60" ry="4.80" fill="rgb(163,163,163)"/><ellipse cx="415.4" cy="332.9" rx="4.80" ry="4.80" fill="rgb(166,166,166)"/><ellipse cx="420.7" cy="325.4" rx="3.60" ry="3.60" fill="rgb(199,199,199)"/><ellipse cx="250.2" cy="378" rx="3.60" ry="2.40" fill="rgb(214,214,214)"/><ellipse cx="257.7" cy="391" rx="6.00" ry="6.00" fill="rgb(219,219,219)"/><ellipse cx="249.1" cy="401.7" rx="4.80" ry="4.80" fill="rgb(219,219,219)"/><ellipse cx="248.5" cy="388" rx="3.60" ry="6.00" fill="rgb(166,166,166)"/><ellipse cx="263" cy="379" rx="3.60" ry="3.60" fill="rgb(199,199,199)"/><ellipse cx="276" cy="382.4" rx="3.60" ry="3.60" fill="rgb(209,209,209)"/><ellipse cx="266.3" cy="384.5" rx="4.80" ry="4.80" fill="rgb(168,168,168)"/><ellipse cx="272" cy="406" rx="10.80" ry="8.40" fill="rgb(163,163,163)"/><ellipse cx="270.6" cy="404.3" rx="6.00" ry="4.20" fill="rgb(115,115,115)"/><ellipse cx="302.7" cy="397.4" rx="3.60" ry="4.80" fill="rgb(125,125,125)"/><ellipse cx="298" cy="385" rx="8.40" ry="7.20" fill="rgb(163,163,163)"/><ellipse cx="284.5" cy="414.5" rx="3.60" ry="3.60" fill="rgb(199,199,199)"/><ellipse cx="286.7" cy="416.6" rx="2.40" ry="2.40" fill="rgb(209,209,209)"/><ellipse cx="266" cy="413" rx="8.40" ry="6.00" fill="rgb(173,173,173)"/><ellipse cx="252.4" cy="425.2" rx="4.80" ry="4.80" fill="rgb(214,214,214)"/><ellipse cx="258.8" cy="430.6" rx="4.80" ry="4.80" fill="rgb(214,214,214)"/><ellipse cx="263" cy="417.7" rx="3.60" ry="3.60" fill="rgb(199,199,199)"/><ellipse cx="287.7" cy="429.5" rx="4.80" ry="4.80" fill="rgb(158,158,158)"/><ellipse cx="271.6" cy="431.7" rx="4.80" ry="4.80" fill="rgb(168,168,168)"/><ellipse cx="302.7" cy="416.6" rx="3.60" ry="4.80" fill="rgb(209,209,209)"/><ellipse cx="300.6" cy="427.4" rx="4.80" ry="3.60" fill="rgb(209,209,209)"/><ellipse cx="309.2" cy="380.2" rx="4.80" ry="4.80" fill="rgb(163,163,163)"/><ellipse cx="331.7" cy="380.2" rx="3.60" ry="6.00" fill="rgb(212,212,212)"/><ellipse cx="346.7" cy="392" rx="7.20" ry="12.00" fill="rgb(163,163,163)"/><ellipse cx="358.5" cy="379" rx="3.60" ry="3.60" fill="rgb(199,199,199)"/><ellipse cx="314.6" cy="403.8" rx="6.00" ry="3.60" fill="rgb(217,217,217)"/><ellipse cx="346.7" cy="407" rx="3.60" ry="4.80" fill="rgb(125,125,125)"/><ellipse cx="343.5" cy="422" rx="3.60" ry="4.80" fill="rgb(125,125,125)"/><ellipse cx="327.4" cy="411.3" rx="4.80" ry="4.80" fill="rgb(184,184,184)"/><ellipse cx="361.7" cy="419.9" rx="4.80" ry="6.00" fill="rgb(217,217,217)"/><ellipse cx="358.5" cy="426.3" rx="6.00" ry="6.00" fill="rgb(219,219,219)"/><ellipse cx="316.7" cy="425.2" rx="4.80" ry="4.80" fill="rgb(204,204,204)"/><ellipse cx="318.9" cy="430.6" rx="3.60" ry="3.60" fill="rgb(209,209,209)"/><ellipse cx="332.8" cy="425.2" rx="4.80" ry="4.80" fill="rgb(166,166,166)"/><ellipse cx="306" cy="396.3" rx="3.60" ry="4.80" fill="rgb(158,158,158)"/><ellipse cx="377.3" cy="384" rx="4.20" ry="6.00" fill="rgb(120,120,120)"/><ellipse cx="401.4" cy="378" rx="4.80" ry="2.40" fill="rgb(214,214,214)"/><ellipse cx="397" cy="381.3" rx="3.60" ry="3.60" fill="rgb(204,204,204)"/><ellipse cx="394" cy="397.4" rx="4.80" ry="3.60" fill="rgb(212,212,212)"/><ellipse cx="374.6" cy="412.4" rx="7.20" ry="7.20" fill="rgb(219,219,219)"/><ellipse cx="367" cy="417.7" rx="3.60" ry="4.80" fill="rgb(214,214,214)"/><ellipse cx="371.4" cy="425.2" rx="3.60" ry="3.60" fill="rgb(209,209,209)"/><ellipse cx="381" cy="403.8" rx="3.60" ry="3.60" fill="rgb(204,204,204)"/><ellipse cx="407.9" cy="388.8" rx="4.80" ry="4.80" fill="rgb(163,163,163)"/><ellipse cx="420.7" cy="388.8" rx="3.60" ry="4.80" fill="rgb(163,163,163)"/><ellipse cx="414.3" cy="408" rx="4.80" ry="4.80" fill="rgb(163,163,163)"/><ellipse cx="403.6" cy="416.7" rx="3.60" ry="3.60" fill="rgb(135,135,135)"/><ellipse cx="395" cy="427.4" rx="4.80" ry="4.80" fill="rgb(168,168,168)"/><ellipse cx="413.2" cy="422" rx="3.60" ry="3.60" fill="rgb(194,194,194)"/><ellipse cx="368" cy="398" rx="3.60" ry="6.00" fill="rgb(163,163,163)"/><ellipse cx="250.3" cy="436.1" rx="3.60" ry="2.40" fill="rgb(209,209,209)"/><ellipse cx="253" cy="442" rx="6.00" ry="4.80" fill="rgb(199,199,199)"/><ellipse cx="269" cy="450" rx="12.00" ry="6.00" fill="rgb(168,168,168)"/><ellipse cx="275.4" cy="438.3" rx="6.00" ry="3.60" fill="rgb(120,120,120)"/><ellipse cx="261.2" cy="467.7" rx="3.60" ry="3.60" fill="rgb(224,224,224)"/><ellipse cx="263.4" cy="473.2" rx="4.80" ry="8.40" fill="rgb(235,235,235)"/><ellipse cx="276.4" cy="479.7" rx="6.00" ry="3.60" fill="rgb(224,224,224)"/><ellipse cx="257.9" cy="484.1" rx="6.00" ry="6.00" fill="rgb(217,217,217)"/><ellipse cx="283" cy="460" rx="3.60" ry="3.60" fill="rgb(209,209,209)"/><ellipse cx="281.9" cy="469.9" rx="3.60" ry="4.80" fill="rgb(214,214,214)"/><ellipse cx="268.8" cy="460" rx="3.60" ry="3.60" fill="rgb(204,204,204)"/><ellipse cx="300" cy="462" rx="7.20" ry="12.00" fill="rgb(163,163,163)"/><ellipse cx="301.5" cy="469.9" rx="4.80" ry="7.20" fill="rgb(133,133,133)"/><ellipse cx="249" cy="486" rx="3.60" ry="9.60" fill="rgb(168,168,168)"/><ellipse cx="290.6" cy="489.5" rx="4.80" ry="4.80" fill="rgb(166,166,166)"/><ellipse cx="288.4" cy="456.8" rx="3.60" ry="3.60" fill="rgb(199,199,199)"/><ellipse cx="351.8" cy="438.3" rx="4.80" ry="6.00" fill="rgb(214,214,214)"/><ellipse cx="312" cy="440" rx="7.20" ry="6.00" fill="rgb(199,199,199)"/><ellipse cx="328" cy="443" rx="12.00" ry="6.00" fill="rgb(166,166,166)"/><ellipse cx="328.9" cy="453.5" rx="3.60" ry="3.60" fill="rgb(209,209,209)"/><ellipse cx="330" cy="463.4" rx="3.60" ry="3.60" fill="rgb(212,212,212)"/><ellipse cx="338.7" cy="451.4" rx="3.60" ry="3.60" fill="rgb(199,199,199)"/><ellipse cx="356" cy="460" rx="12.00" ry="9.60" fill="rgb(158,158,158)"/><ellipse cx="355" cy="456.8" rx="3.60" ry="3.60" fill="rgb(125,125,125)"/><ellipse cx="335.4" cy="476.5" rx="4.80" ry="3.60" fill="rgb(128,128,128)"/><ellipse cx="314" cy="481" rx="9.60" ry="14.40" fill="rgb(163,163,163)"/><ellipse cx="355" cy="485" rx="9.60" ry="8.40" fill="rgb(194,194,194)"/><ellipse cx="376" cy="454" rx="12.00" ry="20.40" fill="rgb(163,163,163)"/><ellipse cx="371.5" cy="463.4" rx="3.60" ry="4.80" fill="rgb(135,135,135)"/><ellipse cx="365" cy="453.5" rx="3.60" ry="4.80" fill="rgb(158,158,158)"/><ellipse cx="386.8" cy="453.5" rx="4.80" ry="4.80" fill="rgb(163,163,163)"/><ellipse cx="415.2" cy="451.4" rx="4.80" ry="4.80" fill="rgb(133,133,133)"/><ellipse cx="397.7" cy="437.2" rx="4.80" ry="3.60" fill="rgb(163,163,163)"/><ellipse cx="396.6" cy="461.2" rx="6.00" ry="4.80" fill="rgb(204,204,204)"/><ellipse cx="383.5" cy="444.8" rx="3.60" ry="3.60" fill="rgb(194,194,194)"/><ellipse cx="374.8" cy="480.8" rx="7.20" ry="3.60" fill="rgb(217,217,217)"/><ellipse cx="389" cy="489.5" rx="4.80" ry="3.60" fill="rgb(217,217,217)"/><ellipse cx="391.2" cy="481.9" rx="3.60" ry="3.60" fill="rgb(204,204,204)"/><ellipse cx="397.7" cy="476.5" rx="3.60" ry="3.60" fill="rgb(204,204,204)"/><ellipse cx="411.9" cy="470" rx="4.80" ry="4.80" fill="rgb(168,168,168)"/><ellipse cx="414" cy="484" rx="4.80" ry="4.80" fill="rgb(168,168,168)"/><ellipse cx="419.5" cy="462.3" rx="3.60" ry="4.80" fill="rgb(189,189,189)"/></g></g>
<path d="M271.1,415L278.2,407.6M284.3,400.8L291.7,393.4M297.7,386.5L305,379.1M310.9,372L318.1,364.9M323.7,358.5L331.1,350.7M337.2,353.5L344.8,360.9M350,367.8L357.9,375.3M363.6,381.7L370.7,389.8M376.6,396.2L384.2,403.6M389.9,410.7L397.7,418.3M390.7,425.4L382.9,432.8M377.2,439.6L369.8,447M364.1,453.8L356.6,461.2M350.9,468.3L343.4,475.9M319.1,472.6L311.5,464.4M305.9,457.9L298.3,450.3M293.9,443.7L285.2,436.1M280,429.9L272.7,422.1M337.1,482.6L332.4,487.3L325.6,480.1" fill="none" stroke="#ff0a0a" stroke-width="3.2" stroke-linecap="butt" stroke-linejoin="miter"/>
<path d="M320.3,467.6H325.2M325.8,468.2V471.4M320.3,474.2H325.2" stroke="#22dd33" stroke-width="1.1" fill="none"/>
<path d="M328.8,468.6V470.6M328.8,472V473" stroke="#ffc830" stroke-width="0.9"/>
<text x="252" y="357.8" font-family="Liberation Sans, sans-serif" font-size="19.4" fill="#ff0a0a">Mn poor</text>
<rect x="247.4" y="506.1" width="175.4" height="9.6" fill="url(#cbar)"/>
<path d="M247.40,506V503.2M253.25,506V505M259.09,506V505M264.94,506V505M270.79,506V505M276.63,506V505M282.48,506V505M288.33,506V505M294.17,506V505M300.02,506V505M305.87,506V503.2M311.71,506V505M317.56,506V505M323.41,506V505M329.25,506V505M335.10,506V505M340.95,506V505M346.79,506V505M352.64,506V505M358.49,506V505M364.33,506V503.2M370.18,506V505M376.03,506V505M381.87,506V505M387.72,506V505M393.57,506V505M399.41,506V505M405.26,506V505M411.11,506V505M416.95,506V505M422.80,506V503.2" stroke="#888" stroke-width="0.7"/>
<text x="335.3" y="539.8" font-family="Liberation Sans, sans-serif" font-size="19.3" text-anchor="middle">Mn at%</text>
<polyline points="482.80,354.16 486.59,352.04 490.37,348.52 494.16,352.73 497.94,357.62 501.73,361.33 505.52,363.39 509.30,364.98 513.09,365.21 516.87,365.13 520.66,366.10 524.45,355.22 528.23,358.86 532.02,362.20 535.80,361.66 539.59,360.50 543.38,357.97 547.16,362.53 550.95,358.58 554.73,355.68 558.52,354.73 562.31,354.52 566.09,354.33 569.88,354.66 573.66,356.40 577.45,359.24 581.24,359.23 585.02,358.43 588.81,358.23 592.59,364.19 596.38,363.47 600.17,362.37 603.95,360.04 607.74,358.30 611.52,356.55 615.31,356.75 619.10,360.56 622.88,362.87 626.67,356.50 630.45,353.42 634.24,354.73 638.03,355.17 641.81,355.66 645.60,358.47 649.38,361.57 653.17,359.62 656.96,358.10 660.74,355.21 664.53,356.11 668.31,356.30 672.10,355.06" fill="none" stroke="#ebbd4c" stroke-width="1"/>
<path d="M482.80,351.00V357.32M481.20,351.00h3.2M481.20,357.32h3.2M481.10,355.46L482.80,352.56L484.50,355.46ZM486.59,348.35V355.73M484.99,348.35h3.2M484.99,355.73h3.2M484.89,353.34L486.59,350.44L488.29,353.34ZM490.37,344.89V352.14M488.77,344.89h3.2M488.77,352.14h3.2M488.67,349.82L490.37,346.92L492.07,349.82ZM494.16,349.72V355.74M492.56,349.72h3.2M492.56,355.74h3.2M492.46,354.03L494.16,351.13L495.86,354.03ZM497.94,354.46V360.78M496.34,354.46h3.2M496.34,360.78h3.2M496.24,358.92L497.94,356.02L499.64,358.92ZM501.73,359.17V363.49M500.13,359.17h3.2M500.13,363.49h3.2M500.03,362.63L501.73,359.73L503.43,362.63ZM505.52,360.85V365.92M503.92,360.85h3.2M503.92,365.92h3.2M503.82,364.69L505.52,361.79L507.22,364.69ZM509.30,361.45V368.52M507.70,361.45h3.2M507.70,368.52h3.2M507.60,366.28L509.30,363.38L511.00,366.28ZM513.09,362.37V368.06M511.49,362.37h3.2M511.49,368.06h3.2M511.39,366.51L513.09,363.61L514.79,366.51ZM516.87,362.72V367.55M515.27,362.72h3.2M515.27,367.55h3.2M515.17,366.43L516.87,363.53L518.57,366.43ZM520.66,363.02V369.19M519.06,363.02h3.2M519.06,369.19h3.2M518.96,367.40L520.66,364.50L522.36,367.40ZM524.45,351.85V358.58M522.85,351.85h3.2M522.85,358.58h3.2M522.75,356.52L524.45,353.62L526.15,356.52ZM528.23,355.55V362.18M526.63,355.55h3.2M526.63,362.18h3.2M526.53,360.16L528.23,357.26L529.93,360.16ZM532.02,359.43V364.98M530.42,359.43h3.2M530.42,364.98h3.2M530.32,363.50L532.02,360.60L533.72,363.50ZM535.80,358.77V364.55M534.20,358.77h3.2M534.20,364.55h3.2M534.10,362.96L535.80,360.06L537.50,362.96ZM539.59,357.49V363.52M537.99,357.49h3.2M537.99,363.52h3.2M537.89,361.80L539.59,358.90L541.29,361.80ZM543.38,354.47V361.48M541.78,354.47h3.2M541.78,361.48h3.2M541.68,359.27L543.38,356.37L545.08,359.27ZM547.16,359.50V365.57M545.56,359.50h3.2M545.56,365.57h3.2M545.46,363.83L547.16,360.93L548.86,363.83ZM550.95,355.77V361.39M549.35,355.77h3.2M549.35,361.39h3.2M549.25,359.88L550.95,356.98L552.65,359.88ZM554.73,352.69V358.66M553.13,352.69h3.2M553.13,358.66h3.2M553.03,356.98L554.73,354.08L556.43,356.98ZM558.52,352.58V356.89M556.92,352.58h3.2M556.92,356.89h3.2M556.82,356.03L558.52,353.13L560.22,356.03ZM562.31,352.34V356.70M560.71,352.34h3.2M560.71,356.70h3.2M560.61,355.82L562.31,352.92L564.01,355.82ZM566.09,350.96V357.69M564.49,350.96h3.2M564.49,357.69h3.2M564.39,355.63L566.09,352.73L567.79,355.63ZM569.88,350.79V358.53M568.28,350.79h3.2M568.28,358.53h3.2M568.18,355.96L569.88,353.06L571.58,355.96ZM573.66,353.24V359.57M572.06,353.24h3.2M572.06,359.57h3.2M571.96,357.70L573.66,354.80L575.36,357.70ZM577.45,356.43V362.05M575.85,356.43h3.2M575.85,362.05h3.2M575.75,360.54L577.45,357.64L579.15,360.54ZM581.24,356.83V361.64M579.64,356.83h3.2M579.64,361.64h3.2M579.54,360.53L581.24,357.63L582.94,360.53ZM585.02,355.43V361.44M583.42,355.43h3.2M583.42,361.44h3.2M583.32,359.73L585.02,356.83L586.72,359.73ZM588.81,354.36V362.09M587.21,354.36h3.2M587.21,362.09h3.2M587.11,359.53L588.81,356.63L590.51,359.53ZM592.59,360.71V367.68M590.99,360.71h3.2M590.99,367.68h3.2M590.89,365.49L592.59,362.59L594.29,365.49ZM596.38,360.40V366.54M594.78,360.40h3.2M594.78,366.54h3.2M594.68,364.77L596.38,361.87L598.08,364.77ZM600.17,358.72V366.02M598.57,358.72h3.2M598.57,366.02h3.2M598.47,363.67L600.17,360.77L601.87,363.67ZM603.95,357.52V362.56M602.35,357.52h3.2M602.35,362.56h3.2M602.25,361.34L603.95,358.44L605.65,361.34ZM607.74,355.28V361.32M606.14,355.28h3.2M606.14,361.32h3.2M606.04,359.60L607.74,356.70L609.44,359.60ZM611.52,352.73V360.36M609.92,352.73h3.2M609.92,360.36h3.2M609.82,357.85L611.52,354.95L613.22,357.85ZM615.31,353.61V359.89M613.71,353.61h3.2M613.71,359.89h3.2M613.61,358.05L615.31,355.15L617.01,358.05ZM619.10,357.63V363.48M617.50,357.63h3.2M617.50,363.48h3.2M617.40,361.86L619.10,358.96L620.80,361.86ZM622.88,360.28V365.45M621.28,360.28h3.2M621.28,365.45h3.2M621.18,364.17L622.88,361.27L624.58,364.17ZM626.67,353.42V359.59M625.07,353.42h3.2M625.07,359.59h3.2M624.97,357.80L626.67,354.90L628.37,357.80ZM630.45,349.60V357.25M628.85,349.60h3.2M628.85,357.25h3.2M628.75,354.72L630.45,351.82L632.15,354.72ZM634.24,352.62V356.84M632.64,352.62h3.2M632.64,356.84h3.2M632.54,356.03L634.24,353.13L635.94,356.03ZM638.03,351.66V358.68M636.43,351.66h3.2M636.43,358.68h3.2M636.33,356.47L638.03,353.57L639.73,356.47ZM641.81,352.08V359.23M640.21,352.08h3.2M640.21,359.23h3.2M640.11,356.96L641.81,354.06L643.51,356.96ZM645.60,354.78V362.17M644.00,354.78h3.2M644.00,362.17h3.2M643.90,359.77L645.60,356.87L647.30,359.77ZM649.38,358.13V365.00M647.78,358.13h3.2M647.78,365.00h3.2M647.68,362.87L649.38,359.97L651.08,362.87ZM653.17,356.07V363.18M651.57,356.07h3.2M651.57,363.18h3.2M651.47,360.92L653.17,358.02L654.87,360.92ZM656.96,355.07V361.13M655.36,355.07h3.2M655.36,361.13h3.2M655.26,359.40L656.96,356.50L658.66,359.40ZM660.74,352.10V358.32M659.14,352.10h3.2M659.14,358.32h3.2M659.04,356.51L660.74,353.61L662.44,356.51ZM664.53,353.24V358.98M662.93,353.24h3.2M662.93,358.98h3.2M662.83,357.41L664.53,354.51L666.23,357.41ZM668.31,354.10V358.51M666.71,354.10h3.2M666.71,358.51h3.2M666.61,357.60L668.31,354.70L670.01,357.60ZM672.10,351.40V358.73M670.50,351.40h3.2M670.50,358.73h3.2M670.40,356.36L672.10,353.46L673.80,356.36Z" fill="none" stroke="#ebbd4c" stroke-width="0.9"/>
<polyline points="482.80,421.15 486.59,422.64 490.37,419.17 494.16,418.26 497.94,418.80 501.73,424.01 505.52,426.43 509.30,426.75 513.09,427.71 516.87,428.93 520.66,427.61 524.45,419.49 528.23,420.85 532.02,422.19 535.80,424.67 539.59,424.71 543.38,424.14 547.16,423.65 550.95,423.53 554.73,424.12 558.52,421.82 562.31,420.03 566.09,421.36 569.88,421.18 573.66,421.26 577.45,423.38 581.24,423.63 585.02,422.02 588.81,420.83 592.59,420.03 596.38,421.78 600.17,422.56 603.95,423.01 607.74,423.16 611.52,422.31 615.31,422.62 619.10,423.12 622.88,422.36 626.67,420.41 630.45,419.59 634.24,419.42 638.03,418.66 641.81,417.52 645.60,420.87 649.38,424.95 653.17,422.17 656.96,419.40 660.74,419.64 664.53,419.85 668.31,419.94 672.10,418.39" fill="none" stroke="#5cc88a" stroke-width="1"/>
<path d="M482.80,417.38V424.91M481.20,417.38h3.2M481.20,424.91h3.2M481.10,422.45L482.80,419.55L484.50,422.45ZM486.59,419.64V425.64M484.99,419.64h3.2M484.99,425.64h3.2M484.89,423.94L486.59,421.04L488.29,423.94ZM490.37,415.57V422.76M488.77,415.57h3.2M488.77,422.76h3.2M488.67,420.47L490.37,417.57L492.07,420.47ZM494.16,415.53V421.00M492.56,415.53h3.2M492.56,421.00h3.2M492.46,419.56L494.16,416.66L495.86,419.56ZM497.94,415.11V422.49M496.34,415.11h3.2M496.34,422.49h3.2M496.24,420.10L497.94,417.20L499.64,420.10ZM501.73,420.29V427.73M500.13,420.29h3.2M500.13,427.73h3.2M500.03,425.31L501.73,422.41L503.43,425.31ZM505.52,423.50V429.36M503.92,423.50h3.2M503.92,429.36h3.2M503.82,427.73L505.52,424.83L507.22,427.73ZM509.30,423.63V429.88M507.70,423.63h3.2M507.70,429.88h3.2M507.60,428.05L509.30,425.15L511.00,428.05ZM513.09,423.95V431.46M511.49,423.95h3.2M511.49,431.46h3.2M511.39,429.01L513.09,426.11L514.79,429.01ZM516.87,425.53V432.33M515.27,425.53h3.2M515.27,432.33h3.2M515.17,430.23L516.87,427.33L518.57,430.23ZM520.66,424.64V430.59M519.06,424.64h3.2M519.06,430.59h3.2M518.96,428.91L520.66,426.01L522.36,428.91ZM524.45,416.99V421.99M522.85,416.99h3.2M522.85,421.99h3.2M522.75,420.79L524.45,417.89L526.15,420.79ZM528.23,418.16V423.53M526.63,418.16h3.2M526.63,423.53h3.2M526.53,422.15L528.23,419.25L529.93,422.15ZM532.02,418.83V425.55M530.42,418.83h3.2M530.42,425.55h3.2M530.32,423.49L532.02,420.59L533.72,423.49ZM535.80,422.27V427.07M534.20,422.27h3.2M534.20,427.07h3.2M534.10,425.97L535.80,423.07L537.50,425.97ZM539.59,420.98V428.44M537.99,420.98h3.2M537.99,428.44h3.2M537.89,426.01L539.59,423.11L541.29,426.01ZM543.38,421.56V426.72M541.78,421.56h3.2M541.78,426.72h3.2M541.68,425.44L543.38,422.54L545.08,425.44ZM547.16,419.91V427.39M545.56,419.91h3.2M545.56,427.39h3.2M545.46,424.95L547.16,422.05L548.86,424.95ZM550.95,420.88V426.19M549.35,420.88h3.2M549.35,426.19h3.2M549.25,424.83L550.95,421.93L552.65,424.83ZM554.73,420.30V427.95M553.13,420.30h3.2M553.13,427.95h3.2M553.03,425.42L554.73,422.52L556.43,425.42ZM558.52,418.45V425.20M556.92,418.45h3.2M556.92,425.20h3.2M556.82,423.12L558.52,420.22L560.22,423.12ZM562.31,417.03V423.04M560.71,417.03h3.2M560.71,423.04h3.2M560.61,421.33L562.31,418.43L564.01,421.33ZM566.09,418.33V424.39M564.49,418.33h3.2M564.49,424.39h3.2M564.39,422.66L566.09,419.76L567.79,422.66ZM569.88,417.91V424.45M568.28,417.91h3.2M568.28,424.45h3.2M568.18,422.48L569.88,419.58L571.58,422.48ZM573.66,418.10V424.41M572.06,418.10h3.2M572.06,424.41h3.2M571.96,422.56L573.66,419.66L575.36,422.56ZM577.45,420.72V426.04M575.85,420.72h3.2M575.85,426.04h3.2M575.75,424.68L577.45,421.78L579.15,424.68ZM581.24,421.16V426.10M579.64,421.16h3.2M579.64,426.10h3.2M579.54,424.93L581.24,422.03L582.94,424.93ZM585.02,419.00V425.04M583.42,419.00h3.2M583.42,425.04h3.2M583.32,423.32L585.02,420.42L586.72,423.32ZM588.81,417.05V424.61M587.21,417.05h3.2M587.21,424.61h3.2M587.11,422.13L588.81,419.23L590.51,422.13ZM592.59,416.81V423.25M590.99,416.81h3.2M590.99,423.25h3.2M590.89,421.33L592.59,418.43L594.29,421.33ZM596.38,419.55V424.02M594.78,419.55h3.2M594.78,424.02h3.2M594.68,423.08L596.38,420.18L598.08,423.08ZM600.17,418.99V426.14M598.57,418.99h3.2M598.57,426.14h3.2M598.47,423.86L600.17,420.96L601.87,423.86ZM603.95,419.61V426.42M602.35,419.61h3.2M602.35,426.42h3.2M602.25,424.31L603.95,421.41L605.65,424.31ZM607.74,419.43V426.90M606.14,419.43h3.2M606.14,426.90h3.2M606.04,424.46L607.74,421.56L609.44,424.46ZM611.52,419.86V424.75M609.92,419.86h3.2M609.92,424.75h3.2M609.82,423.61L611.52,420.71L613.22,423.61ZM615.31,419.18V426.06M613.71,419.18h3.2M613.71,426.06h3.2M613.61,423.92L615.31,421.02L617.01,423.92ZM619.10,420.92V425.33M617.50,420.92h3.2M617.50,425.33h3.2M617.40,424.42L619.10,421.52L620.80,424.42ZM622.88,419.09V425.64M621.28,419.09h3.2M621.28,425.64h3.2M621.18,423.66L622.88,420.76L624.58,423.66ZM626.67,417.82V423.00M625.07,417.82h3.2M625.07,423.00h3.2M624.97,421.71L626.67,418.81L628.37,421.71ZM630.45,417.08V422.10M628.85,417.08h3.2M628.85,422.10h3.2M628.75,420.89L630.45,417.99L632.15,420.89ZM634.24,415.74V423.09M632.64,415.74h3.2M632.64,423.09h3.2M632.54,420.72L634.24,417.82L635.94,420.72ZM638.03,416.37V420.95M636.43,416.37h3.2M636.43,420.95h3.2M636.33,419.96L638.03,417.06L639.73,419.96ZM641.81,414.48V420.56M640.21,414.48h3.2M640.21,420.56h3.2M640.11,418.82L641.81,415.92L643.51,418.82ZM645.60,417.23V424.51M644.00,417.23h3.2M644.00,424.51h3.2M643.90,422.17L645.60,419.27L647.30,422.17ZM649.38,422.41V427.49M647.78,422.41h3.2M647.78,427.49h3.2M647.68,426.25L649.38,423.35L651.08,426.25ZM653.17,419.69V424.65M651.57,419.69h3.2M651.57,424.65h3.2M651.47,423.47L653.17,420.57L654.87,423.47ZM656.96,415.72V423.09M655.36,415.72h3.2M655.36,423.09h3.2M655.26,420.70L656.96,417.80L658.66,420.70ZM660.74,416.78V422.50M659.14,416.78h3.2M659.14,422.50h3.2M659.04,420.94L660.74,418.04L662.44,420.94ZM664.53,416.46V423.24M662.93,416.46h3.2M662.93,423.24h3.2M662.83,421.15L664.53,418.25L666.23,421.15ZM668.31,417.78V422.09M666.71,417.78h3.2M666.71,422.09h3.2M666.61,421.24L668.31,418.34L670.01,421.24ZM672.10,415.64V421.14M670.50,415.64h3.2M670.50,421.14h3.2M670.40,419.69L672.10,416.79L673.80,419.69Z" fill="none" stroke="#5cc88a" stroke-width="0.9"/>
<polyline points="482.80,434.49 486.59,431.85 490.37,443.54 494.16,440.12 497.94,434.72 501.73,426.05 505.52,419.23 509.30,419.01 513.09,416.87 516.87,414.73 520.66,414.49 524.45,428.01 528.23,435.90 532.02,423.77 535.80,422.27 539.59,423.25 543.38,428.96 547.16,429.24 550.95,427.83 554.73,427.22 558.52,426.81 562.31,432.01 566.09,434.31 569.88,432.26 573.66,430.35 577.45,426.54 581.24,426.24 585.02,430.48 588.81,431.36 592.59,421.05 596.38,423.24 600.17,426.63 603.95,426.94 607.74,429.84 611.52,431.73 615.31,430.12 619.10,430.75 622.88,423.12 626.67,432.13 630.45,435.23 634.24,437.43 638.03,438.42 641.81,436.90 645.60,432.01 649.38,423.61 653.17,426.39 656.96,431.31 660.74,435.54 664.53,437.10 668.31,433.79 672.10,433.52" fill="none" stroke="#962a9e" stroke-width="1"/>
<path d="M482.80,430.71V438.26M481.20,430.71h3.2M481.20,438.26h3.2M481.10,435.79L482.80,432.89L484.50,435.79ZM486.59,428.21V435.49M484.99,428.21h3.2M484.99,435.49h3.2M484.89,433.15L486.59,430.25L488.29,433.15ZM490.37,439.66V447.43M488.77,439.66h3.2M488.77,447.43h3.2M488.67,444.84L490.37,441.94L492.07,444.84ZM494.16,436.82V443.43M492.56,436.82h3.2M492.56,443.43h3.2M492.46,441.42L494.16,438.52L495.86,441.42ZM497.94,432.33V437.12M496.34,432.33h3.2M496.34,437.12h3.2M496.24,436.02L497.94,433.12L499.64,436.02ZM501.73,422.40V429.70M500.13,422.40h3.2M500.13,429.70h3.2M500.03,427.35L501.73,424.45L503.43,427.35ZM505.52,415.39V423.06M503.92,415.39h3.2M503.92,423.06h3.2M503.82,420.53L505.52,417.63L507.22,420.53ZM509.30,415.28V422.74M507.70,415.28h3.2M507.70,422.74h3.2M507.60,420.31L509.30,417.41L511.00,420.31ZM513.09,413.74V419.99M511.49,413.74h3.2M511.49,419.99h3.2M511.39,418.17L513.09,415.27L514.79,418.17ZM516.87,411.35V418.12M515.27,411.35h3.2M515.27,418.12h3.2M515.17,416.03L516.87,413.13L518.57,416.03ZM520.66,412.01V416.97M519.06,412.01h3.2M519.06,416.97h3.2M518.96,415.79L520.66,412.89L522.36,415.79ZM524.45,424.42V431.61M522.85,424.42h3.2M522.85,431.61h3.2M522.75,429.31L524.45,426.41L526.15,429.31ZM528.23,432.77V439.04M526.63,432.77h3.2M526.63,439.04h3.2M526.53,437.20L528.23,434.30L529.93,437.20ZM532.02,421.15V426.38M530.42,421.15h3.2M530.42,426.38h3.2M530.32,425.07L532.02,422.17L533.72,425.07ZM535.80,420.05V424.48M534.20,420.05h3.2M534.20,424.48h3.2M534.10,423.57L535.80,420.67L537.50,423.57ZM539.59,419.61V426.89M537.99,419.61h3.2M537.99,426.89h3.2M537.89,424.55L539.59,421.65L541.29,424.55ZM543.38,425.08V432.84M541.78,425.08h3.2M541.78,432.84h3.2M541.68,430.26L543.38,427.36L545.08,430.26ZM547.16,426.98V431.50M545.56,426.98h3.2M545.56,431.50h3.2M545.46,430.54L547.16,427.64L548.86,430.54ZM550.95,424.29V431.37M549.35,424.29h3.2M549.35,431.37h3.2M549.25,429.13L550.95,426.23L552.65,429.13ZM554.73,424.39V430.06M553.13,424.39h3.2M553.13,430.06h3.2M553.03,428.52L554.73,425.62L556.43,428.52ZM558.52,424.43V429.18M556.92,424.43h3.2M556.92,429.18h3.2M556.82,428.11L558.52,425.21L560.22,428.11ZM562.31,429.38V434.64M560.71,429.38h3.2M560.71,434.64h3.2M560.61,433.31L562.31,430.41L564.01,433.31ZM566.09,430.83V437.79M564.49,430.83h3.2M564.49,437.79h3.2M564.39,435.61L566.09,432.71L567.79,435.61ZM569.88,428.59V435.93M568.28,428.59h3.2M568.28,435.93h3.2M568.18,433.56L569.88,430.66L571.58,433.56ZM573.66,428.17V432.53M572.06,428.17h3.2M572.06,432.53h3.2M571.96,431.65L573.66,428.75L575.36,431.65ZM577.45,423.34V429.75M575.85,423.34h3.2M575.85,429.75h3.2M575.75,427.84L577.45,424.94L579.15,427.84ZM581.24,424.06V428.42M579.64,424.06h3.2M579.64,428.42h3.2M579.54,427.54L581.24,424.64L582.94,427.54ZM585.02,427.08V433.87M583.42,427.08h3.2M583.42,433.87h3.2M583.32,431.78L585.02,428.88L586.72,431.78ZM588.81,428.67V434.06M587.21,428.67h3.2M587.21,434.06h3.2M587.11,432.66L588.81,429.76L590.51,432.66ZM592.59,417.37V424.74M590.99,417.37h3.2M590.99,424.74h3.2M590.89,422.35L592.59,419.45L594.29,422.35ZM596.38,419.38V427.11M594.78,419.38h3.2M594.78,427.11h3.2M594.68,424.54L596.38,421.64L598.08,424.54ZM600.17,423.62V429.64M598.57,423.62h3.2M598.57,429.64h3.2M598.47,427.93L600.17,425.03L601.87,427.93ZM603.95,423.04V430.84M602.35,423.04h3.2M602.35,430.84h3.2M602.25,428.24L603.95,425.34L605.65,428.24ZM607.74,427.18V432.50M606.14,427.18h3.2M606.14,432.50h3.2M606.04,431.14L607.74,428.24L609.44,431.14ZM611.52,429.49V433.97M609.92,429.49h3.2M609.92,433.97h3.2M609.82,433.03L611.52,430.13L613.22,433.03ZM615.31,426.94V433.30M613.71,426.94h3.2M613.71,433.30h3.2M613.61,431.42L615.31,428.52L617.01,431.42ZM619.10,428.60V432.91M617.50,428.60h3.2M617.50,432.91h3.2M617.40,432.05L619.10,429.15L620.80,432.05ZM622.88,420.66V425.57M621.28,420.66h3.2M621.28,425.57h3.2M621.18,424.42L622.88,421.52L624.58,424.42ZM626.67,429.30V434.97M625.07,429.30h3.2M625.07,434.97h3.2M624.97,433.43L626.67,430.53L628.37,433.43ZM630.45,432.03V438.42M628.85,432.03h3.2M628.85,438.42h3.2M628.75,436.53L630.45,433.63L632.15,436.53ZM634.24,435.05V439.81M632.64,435.05h3.2M632.64,439.81h3.2M632.54,438.73L634.24,435.83L635.94,438.73ZM638.03,436.25V440.60M636.43,436.25h3.2M636.43,440.60h3.2M636.33,439.72L638.03,436.82L639.73,439.72ZM641.81,433.24V440.56M640.21,433.24h3.2M640.21,440.56h3.2M640.11,438.20L641.81,435.30L643.51,438.20ZM645.60,429.35V434.68M644.00,429.35h3.2M644.00,434.68h3.2M643.90,433.31L645.60,430.41L647.30,433.31ZM649.38,419.78V427.43M647.78,419.78h3.2M647.78,427.43h3.2M647.68,424.91L649.38,422.01L651.08,424.91ZM653.17,422.68V430.11M651.57,422.68h3.2M651.57,430.11h3.2M651.47,427.69L653.17,424.79L654.87,427.69ZM656.96,428.53V434.09M655.36,428.53h3.2M655.36,434.09h3.2M655.26,432.61L656.96,429.71L658.66,432.61ZM660.74,432.61V438.47M659.14,432.61h3.2M659.14,438.47h3.2M659.04,436.84L660.74,433.94L662.44,436.84ZM664.53,434.06V440.14M662.93,434.06h3.2M662.93,440.14h3.2M662.83,438.40L664.53,435.50L666.23,438.40ZM668.31,430.53V437.04M666.71,430.53h3.2M666.71,437.04h3.2M666.61,435.09L668.31,432.19L670.01,435.09ZM672.10,430.35V436.69M670.50,430.35h3.2M670.50,436.69h3.2M670.40,434.82L672.10,431.92L673.80,434.82Z" fill="none" stroke="#962a9e" stroke-width="0.9"/>
<path d="M473,390.7V320.4H681.5V390.7M473,395.90000000000003V496H681.5V395.90000000000003" fill="none" stroke="#8a8a8a" stroke-width="1.4"/>
<path d="M469.2,393.3l7.4,-4.1M469.2,396.5l7.4,-4.1" stroke="#444" stroke-width="1.1"/>
<path d="M677.7,393.3l7.4,-4.1M677.7,396.5l7.4,-4.1" stroke="#444" stroke-width="1.1"/>
<line x1="469.6" y1="320.4" x2="473" y2="320.4" stroke="#8a8a8a" stroke-width="1.3"/>
<text x="468.3" y="325.4" font-family="Liberation Sans, sans-serif" font-size="16" text-anchor="end">60</text>
<line x1="469.6" y1="371.6" x2="473" y2="371.6" stroke="#8a8a8a" stroke-width="1.3"/>
<text x="468.3" y="376.6" font-family="Liberation Sans, sans-serif" font-size="16" text-anchor="end">55</text>
<line x1="469.6" y1="445.6" x2="473" y2="445.6" stroke="#8a8a8a" stroke-width="1.3"/>
<text x="468.3" y="450.6" font-family="Liberation Sans, sans-serif" font-size="16" text-anchor="end">20</text>
<line x1="469.6" y1="495.8" x2="473" y2="495.8" stroke="#8a8a8a" stroke-width="1.3"/>
<text x="468.3" y="500.8" font-family="Liberation Sans, sans-serif" font-size="16" text-anchor="end">15</text>
<line x1="471" y1="345.9" x2="473" y2="345.9" stroke="#8a8a8a" stroke-width="1.2"/>
<line x1="471" y1="470.7" x2="473" y2="470.7" stroke="#8a8a8a" stroke-width="1.2"/>
<line x1="482.80" y1="496" x2="482.80" y2="492" stroke="#8a8a8a" stroke-width="1.2"/>
<text x="482.80" y="512.9" font-family="Liberation Sans, sans-serif" font-size="16" text-anchor="middle">0</text>
<line x1="501.73" y1="496" x2="501.73" y2="493.8" stroke="#8a8a8a" stroke-width="1.2"/>
<line x1="520.66" y1="496" x2="520.66" y2="492" stroke="#8a8a8a" stroke-width="1.2"/>
<text x="520.66" y="512.9" font-family="Liberation Sans, sans-serif" font-size="16" text-anchor="middle">20</text>
<line x1="539.59" y1="496" x2="539.59" y2="493.8" stroke="#8a8a8a" stroke-width="1.2"/>
<line x1="558.52" y1="496" x2="558.52" y2="492" stroke="#8a8a8a" stroke-width="1.2"/>
<text x="558.52" y="512.9" font-family="Liberation Sans, sans-serif" font-size="16" text-anchor="middle">40</text>
<line x1="577.45" y1="496" x2="577.45" y2="493.8" stroke="#8a8a8a" stroke-width="1.2"/>
<line x1="596.38" y1="496" x2="596.38" y2="492" stroke="#8a8a8a" stroke-width="1.2"/>
<text x="596.38" y="512.9" font-family="Liberation Sans, sans-serif" font-size="16" text-anchor="middle">60</text>
<line x1="615.31" y1="496" x2="615.31" y2="493.8" stroke="#8a8a8a" stroke-width="1.2"/>
<line x1="634.24" y1="496" x2="634.24" y2="492" stroke="#8a8a8a" stroke-width="1.2"/>
<text x="634.24" y="512.9" font-family="Liberation Sans, sans-serif" font-size="16" text-anchor="middle">80</text>
<line x1="653.17" y1="496" x2="653.17" y2="493.8" stroke="#8a8a8a" stroke-width="1.2"/>
<line x1="672.10" y1="496" x2="672.10" y2="492" stroke="#8a8a8a" stroke-width="1.2"/>
<text x="672.10" y="512.9" font-family="Liberation Sans, sans-serif" font-size="16" text-anchor="middle">100</text>
<text x="577.5" y="534.5" font-family="Liberation Sans, sans-serif" font-size="18.7" text-anchor="middle">Distance (nm)</text>
<text transform="translate(445,405.5) rotate(-90)" font-family="Liberation Sans, sans-serif" font-size="19.1" text-anchor="middle">Concentration (at%)</text>
<line x1="482.6" y1="377.5" x2="507.8" y2="377.5" stroke="#f2c478" stroke-width="1.4"/>
<text x="510.3" y="381.7" font-family="Liberation Sans, sans-serif" font-size="11.8" fill="#222">Te</text>
<line x1="482.6" y1="391.5" x2="507.8" y2="391.5" stroke="#7ad49e" stroke-width="1.4"/>
<text x="510.3" y="395.7" font-family="Liberation Sans, sans-serif" font-size="11.8" fill="#222">Sb</text>
<line x1="482.6" y1="404.6" x2="507.8" y2="404.6" stroke="#c884cc" stroke-width="1.4"/>
<text x="510.3" y="408.8" font-family="Liberation Sans, sans-serif" font-size="11.8" fill="#222">Mn</text>
<path d="M490.8,324.8L490.8,340.2M486.2,335.0L490.8,341L495.40000000000003,335.0" fill="none" stroke="#000" stroke-width="2.1" stroke-linejoin="miter"/>
<path d="M526.8,336.2L526.8,349.8M522.1999999999999,344.6L526.8,350.6L531.4,344.6" fill="none" stroke="#000" stroke-width="2.1" stroke-linejoin="miter"/>
<path d="M567,334.4L567,349.09999999999997M562.4,343.9L567,349.9L571.6,343.9" fill="none" stroke="#000" stroke-width="2.1" stroke-linejoin="miter"/>
<path d="M633.6,332.2L633.6,347.5M629.0,342.3L633.6,348.3L638.2,342.3" fill="none" stroke="#000" stroke-width="2.1" stroke-linejoin="miter"/>
<path d="M491.2,469.9L491.2,452.90000000000003M486.59999999999997,458.1L491.2,452.1L495.8,458.1" fill="none" stroke="#000" stroke-width="2.1" stroke-linejoin="miter"/>
<path d="M526.4,459.4L526.4,442.5M521.8,447.7L526.4,441.7L531.0,447.7" fill="none" stroke="#000" stroke-width="2.1" stroke-linejoin="miter"/>
<path d="M569.2,455.5L569.2,438.6M564.6,443.8L569.2,437.8L573.8000000000001,443.8" fill="none" stroke="#000" stroke-width="2.1" stroke-linejoin="miter"/>
<path d="M638.3,462L638.3,444.6M633.6999999999999,449.8L638.3,443.8L642.9,449.8" fill="none" stroke="#000" stroke-width="2.1" stroke-linejoin="miter"/>
</svg>
</body></html>
